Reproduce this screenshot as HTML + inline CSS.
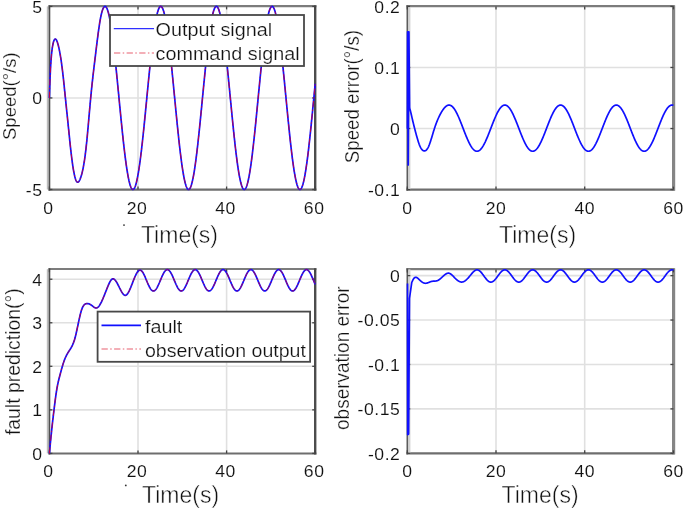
<!DOCTYPE html>
<html><head><meta charset="utf-8"><style>
html,body{margin:0;padding:0;background:#fff;}
svg{display:block;filter:blur(0.35px);}
text{font-family:"Liberation Sans",sans-serif;fill:#111;stroke:#fff;stroke-width:0.45px;}
.g{stroke:#e0e0e0;stroke-width:1.6;fill:none;}
.ax{stroke:#5e5e5e;stroke-width:2.1;fill:none;}
.tk{stroke:#444;stroke-width:1.3;}
.cb{stroke:#1010ff;stroke-width:1.7;fill:none;stroke-linejoin:round;}
.cr{stroke:#c8003c;stroke-width:1.0;fill:none;stroke-dasharray:6.3 2.4 1.5 2.4;}
.lg{fill:#fff;stroke:#484848;stroke-width:1.8;}
.lb{stroke:#3030ff;stroke-width:1.2;}
.lb2{stroke:#1010ff;stroke-width:1.7;}
.lr{stroke:#e86070;stroke-width:1.1;stroke-dasharray:6.3 2.4 1.5 2.4;}
.tl{font-size:16px;letter-spacing:0.5px;stroke-width:0.1px;}
.xl{font-size:23px;}
.yl{font-size:18px;stroke-width:0.25px;}
.lt{font-size:18px;stroke-width:0.2px;}
</style></head><body>
<svg width="685" height="509" viewBox="0 0 685 509">
<rect width="685" height="509" fill="#fff"/>
<line x1="138" y1="6.4" x2="138" y2="189.5" class="g"/>
<line x1="226.6" y1="6.4" x2="226.6" y2="189.5" class="g"/>
<line x1="49.4" y1="97.95" x2="315.2" y2="97.95" class="g"/>
<line x1="496" y1="6.4" x2="496" y2="189.6" class="g"/>
<line x1="584.7" y1="6.4" x2="584.7" y2="189.6" class="g"/>
<line x1="407.3" y1="128.53" x2="673.4" y2="128.53" class="g"/>
<line x1="407.3" y1="67.47" x2="673.4" y2="67.47" class="g"/>
<line x1="138" y1="269.2" x2="138" y2="453.4" class="g"/>
<line x1="226.6" y1="269.2" x2="226.6" y2="453.4" class="g"/>
<line x1="49.4" y1="409.85" x2="315.2" y2="409.85" class="g"/>
<line x1="49.4" y1="366.31" x2="315.2" y2="366.31" class="g"/>
<line x1="49.4" y1="322.76" x2="315.2" y2="322.76" class="g"/>
<line x1="49.4" y1="279.22" x2="315.2" y2="279.22" class="g"/>
<line x1="496" y1="269.4" x2="496" y2="453.3" class="g"/>
<line x1="584.7" y1="269.4" x2="584.7" y2="453.3" class="g"/>
<line x1="407.3" y1="408.88" x2="673.4" y2="408.88" class="g"/>
<line x1="407.3" y1="364.46" x2="673.4" y2="364.46" class="g"/>
<line x1="407.3" y1="320.04" x2="673.4" y2="320.04" class="g"/>
<line x1="407.3" y1="275.62" x2="673.4" y2="275.62" class="g"/>
<line x1="48.4" y1="6.2" x2="316.4" y2="6.2" stroke="#7c7c7c" stroke-width="2.2"/>
<line x1="48.4" y1="189.6" x2="316.4" y2="189.6" stroke="#6e6e6e" stroke-width="2.2"/>
<line x1="47.8" y1="6.4" x2="47.8" y2="189.5" stroke="#bdbdbd" stroke-width="2"/>
<line x1="49.5" y1="5.4" x2="49.5" y2="190.6" stroke="#505050" stroke-width="1.6"/>
<line x1="315.2" y1="5.4" x2="315.2" y2="190.6" stroke="#4c4c4c" stroke-width="2.4"/>
<line x1="49.4" y1="189.5" x2="49.4" y2="186.5" class="tk"/>
<line x1="49.4" y1="6.4" x2="49.4" y2="9.4" class="tk"/>
<line x1="138" y1="189.5" x2="138" y2="186.5" class="tk"/>
<line x1="138" y1="6.4" x2="138" y2="9.4" class="tk"/>
<line x1="226.6" y1="189.5" x2="226.6" y2="186.5" class="tk"/>
<line x1="226.6" y1="6.4" x2="226.6" y2="9.4" class="tk"/>
<line x1="315.2" y1="189.5" x2="315.2" y2="186.5" class="tk"/>
<line x1="315.2" y1="6.4" x2="315.2" y2="9.4" class="tk"/>
<line x1="49.4" y1="189.5" x2="52.4" y2="189.5" class="tk"/>
<line x1="315.2" y1="189.5" x2="312.2" y2="189.5" class="tk"/>
<line x1="49.4" y1="97.95" x2="52.4" y2="97.95" class="tk"/>
<line x1="315.2" y1="97.95" x2="312.2" y2="97.95" class="tk"/>
<line x1="49.4" y1="6.4" x2="52.4" y2="6.4" class="tk"/>
<line x1="315.2" y1="6.4" x2="312.2" y2="6.4" class="tk"/>
<line x1="406.3" y1="6.2" x2="674.6" y2="6.2" stroke="#7c7c7c" stroke-width="2.2"/>
<line x1="406.3" y1="189.7" x2="674.6" y2="189.7" stroke="#6e6e6e" stroke-width="2.2"/>
<line x1="409.3" y1="6.4" x2="409.3" y2="189.6" stroke="#d2d2d2" stroke-width="2.2"/>
<line x1="407.3" y1="5.4" x2="407.3" y2="190.7" stroke="#5c5c5c" stroke-width="1.6"/>
<line x1="673.6" y1="5.4" x2="673.6" y2="190.7" stroke="#858585" stroke-width="3.2"/>
<line x1="407.3" y1="189.6" x2="407.3" y2="186.6" class="tk"/>
<line x1="407.3" y1="6.4" x2="407.3" y2="9.4" class="tk"/>
<line x1="496" y1="189.6" x2="496" y2="186.6" class="tk"/>
<line x1="496" y1="6.4" x2="496" y2="9.4" class="tk"/>
<line x1="584.7" y1="189.6" x2="584.7" y2="186.6" class="tk"/>
<line x1="584.7" y1="6.4" x2="584.7" y2="9.4" class="tk"/>
<line x1="673.4" y1="189.6" x2="673.4" y2="186.6" class="tk"/>
<line x1="673.4" y1="6.4" x2="673.4" y2="9.4" class="tk"/>
<line x1="407.3" y1="189.6" x2="410.3" y2="189.6" class="tk"/>
<line x1="673.4" y1="189.6" x2="670.4" y2="189.6" class="tk"/>
<line x1="407.3" y1="128.53" x2="410.3" y2="128.53" class="tk"/>
<line x1="673.4" y1="128.53" x2="670.4" y2="128.53" class="tk"/>
<line x1="407.3" y1="67.47" x2="410.3" y2="67.47" class="tk"/>
<line x1="673.4" y1="67.47" x2="670.4" y2="67.47" class="tk"/>
<line x1="407.3" y1="6.4" x2="410.3" y2="6.4" class="tk"/>
<line x1="673.4" y1="6.4" x2="670.4" y2="6.4" class="tk"/>
<line x1="48.4" y1="269" x2="316.4" y2="269" stroke="#7c7c7c" stroke-width="2.2"/>
<line x1="48.4" y1="453.5" x2="316.4" y2="453.5" stroke="#6e6e6e" stroke-width="2.2"/>
<line x1="47.8" y1="269.2" x2="47.8" y2="453.4" stroke="#bdbdbd" stroke-width="2"/>
<line x1="49.5" y1="268.2" x2="49.5" y2="454.5" stroke="#505050" stroke-width="1.6"/>
<line x1="315.2" y1="268.2" x2="315.2" y2="454.5" stroke="#4c4c4c" stroke-width="2.4"/>
<line x1="49.4" y1="453.4" x2="49.4" y2="450.4" class="tk"/>
<line x1="49.4" y1="269.2" x2="49.4" y2="272.2" class="tk"/>
<line x1="138" y1="453.4" x2="138" y2="450.4" class="tk"/>
<line x1="138" y1="269.2" x2="138" y2="272.2" class="tk"/>
<line x1="226.6" y1="453.4" x2="226.6" y2="450.4" class="tk"/>
<line x1="226.6" y1="269.2" x2="226.6" y2="272.2" class="tk"/>
<line x1="315.2" y1="453.4" x2="315.2" y2="450.4" class="tk"/>
<line x1="315.2" y1="269.2" x2="315.2" y2="272.2" class="tk"/>
<line x1="49.4" y1="453.4" x2="52.4" y2="453.4" class="tk"/>
<line x1="315.2" y1="453.4" x2="312.2" y2="453.4" class="tk"/>
<line x1="49.4" y1="409.85" x2="52.4" y2="409.85" class="tk"/>
<line x1="315.2" y1="409.85" x2="312.2" y2="409.85" class="tk"/>
<line x1="49.4" y1="366.31" x2="52.4" y2="366.31" class="tk"/>
<line x1="315.2" y1="366.31" x2="312.2" y2="366.31" class="tk"/>
<line x1="49.4" y1="322.76" x2="52.4" y2="322.76" class="tk"/>
<line x1="315.2" y1="322.76" x2="312.2" y2="322.76" class="tk"/>
<line x1="49.4" y1="279.22" x2="52.4" y2="279.22" class="tk"/>
<line x1="315.2" y1="279.22" x2="312.2" y2="279.22" class="tk"/>
<line x1="406.3" y1="269.2" x2="674.6" y2="269.2" stroke="#7c7c7c" stroke-width="2.2"/>
<line x1="406.3" y1="453.4" x2="674.6" y2="453.4" stroke="#6e6e6e" stroke-width="2.2"/>
<line x1="409.3" y1="269.4" x2="409.3" y2="453.3" stroke="#d2d2d2" stroke-width="2.2"/>
<line x1="407.3" y1="268.4" x2="407.3" y2="454.4" stroke="#5c5c5c" stroke-width="1.6"/>
<line x1="673.6" y1="268.4" x2="673.6" y2="454.4" stroke="#858585" stroke-width="3.2"/>
<line x1="407.3" y1="453.3" x2="407.3" y2="450.3" class="tk"/>
<line x1="407.3" y1="269.4" x2="407.3" y2="272.4" class="tk"/>
<line x1="496" y1="453.3" x2="496" y2="450.3" class="tk"/>
<line x1="496" y1="269.4" x2="496" y2="272.4" class="tk"/>
<line x1="584.7" y1="453.3" x2="584.7" y2="450.3" class="tk"/>
<line x1="584.7" y1="269.4" x2="584.7" y2="272.4" class="tk"/>
<line x1="673.4" y1="453.3" x2="673.4" y2="450.3" class="tk"/>
<line x1="673.4" y1="269.4" x2="673.4" y2="272.4" class="tk"/>
<line x1="407.3" y1="453.3" x2="410.3" y2="453.3" class="tk"/>
<line x1="673.4" y1="453.3" x2="670.4" y2="453.3" class="tk"/>
<line x1="407.3" y1="408.88" x2="410.3" y2="408.88" class="tk"/>
<line x1="673.4" y1="408.88" x2="670.4" y2="408.88" class="tk"/>
<line x1="407.3" y1="364.46" x2="410.3" y2="364.46" class="tk"/>
<line x1="673.4" y1="364.46" x2="670.4" y2="364.46" class="tk"/>
<line x1="407.3" y1="320.04" x2="410.3" y2="320.04" class="tk"/>
<line x1="673.4" y1="320.04" x2="670.4" y2="320.04" class="tk"/>
<line x1="407.3" y1="275.62" x2="410.3" y2="275.62" class="tk"/>
<line x1="673.4" y1="275.62" x2="670.4" y2="275.62" class="tk"/>
<path d="M49.4 97.95 L49.62 90.28 L49.84 83.66 L50.07 77.94 L50.29 72.98 L50.51 68.64 L50.73 64.78 L50.95 61.36 L51.17 58.33 L51.4 55.67 L51.62 53.34 L51.84 51.3 L52.06 49.51 L52.28 47.94 L52.5 46.56 L52.73 45.33 L52.95 44.23 L53.17 43.24 L53.39 42.36 L53.61 41.6 L53.83 40.94 L54.06 40.38 L54.28 39.93 L54.5 39.57 L54.72 39.31 L54.94 39.14 L55.16 39.05 L55.39 39.05 L55.61 39.13 L55.83 39.28 L56.05 39.51 L56.27 39.81 L56.49 40.17 L56.72 40.6 L56.94 41.1 L57.16 41.66 L57.38 42.28 L57.6 42.96 L57.82 43.69 L58.05 44.48 L58.27 45.32 L58.49 46.22 L58.71 47.16 L58.93 48.14 L59.15 49.17 L59.38 50.25 L59.6 51.37 L59.82 52.54 L60.04 53.76 L60.26 55.02 L60.48 56.33 L60.71 57.7 L60.93 59.11 L61.15 60.58 L61.37 62.11 L61.59 63.69 L61.81 65.32 L62.04 67.01 L62.26 68.77 L62.48 70.58 L62.7 72.44 L62.92 74.37 L63.14 76.34 L63.37 78.36 L63.59 80.42 L63.81 82.5 L64.03 84.62 L64.25 86.76 L64.47 88.92 L64.7 91.08 L64.92 93.26 L65.14 95.43 L65.36 97.6 L65.58 99.76 L65.8 101.91 L66.03 104.06 L66.25 106.2 L66.47 108.34 L66.69 110.49 L66.91 112.63 L67.13 114.77 L67.36 116.92 L67.58 119.07 L67.8 121.23 L68.02 123.39 L68.24 125.57 L68.46 127.76 L68.69 129.95 L68.91 132.14 L69.13 134.33 L69.35 136.51 L69.57 138.67 L69.79 140.82 L70.02 142.95 L70.24 145.04 L70.46 147.1 L70.68 149.12 L70.9 151.1 L71.13 153.04 L71.35 154.91 L71.57 156.74 L71.79 158.51 L72.01 160.22 L72.23 161.88 L72.46 163.48 L72.68 165.02 L72.9 166.5 L73.12 167.91 L73.34 169.27 L73.56 170.56 L73.79 171.78 L74.01 172.94 L74.23 174.04 L74.45 175.06 L74.67 176.02 L74.89 176.91 L75.12 177.73 L75.34 178.48 L75.56 179.16 L75.78 179.78 L76 180.33 L76.22 180.81 L76.45 181.22 L76.67 181.56 L76.89 181.84 L77.11 182.05 L77.33 182.19 L77.55 182.26 L77.78 182.27 L78 182.21 L78.22 182.09 L78.44 181.92 L78.66 181.69 L78.88 181.42 L79.11 181.09 L79.33 180.72 L79.55 180.3 L79.77 179.84 L79.99 179.35 L80.21 178.82 L80.44 178.25 L80.66 177.66 L80.88 177.02 L81.1 176.35 L81.32 175.64 L81.54 174.88 L81.77 174.08 L81.99 173.24 L82.21 172.35 L82.43 171.42 L82.65 170.43 L82.87 169.39 L83.1 168.3 L83.32 167.16 L83.54 165.95 L83.76 164.69 L83.98 163.37 L84.2 162 L84.43 160.56 L84.65 159.05 L84.87 157.49 L85.09 155.85 L85.31 154.16 L85.53 152.39 L85.76 150.56 L85.98 148.65 L86.2 146.68 L86.42 144.63 L86.64 142.51 L86.86 140.31 L87.09 138.05 L87.31 135.73 L87.53 133.35 L87.75 130.93 L87.97 128.48 L88.19 125.98 L88.42 123.47 L88.64 120.94 L88.86 118.39 L89.08 115.84 L89.3 113.3 L89.52 110.77 L89.75 108.25 L89.97 105.76 L90.19 103.3 L90.41 100.88 L90.63 98.5 L90.86 96.17 L91.08 93.9 L91.3 91.67 L91.52 89.48 L91.74 87.33 L91.96 85.23 L92.19 83.16 L92.41 81.12 L92.63 79.11 L92.85 77.14 L93.07 75.18 L93.29 73.26 L93.52 71.35 L93.74 69.46 L93.96 67.59 L94.18 65.73 L94.4 63.89 L94.62 62.05 L94.85 60.22 L95.07 58.39 L95.29 56.57 L95.51 54.74 L95.73 52.91 L95.95 51.08 L96.18 49.26 L96.4 47.43 L96.62 45.62 L96.84 43.82 L97.06 42.04 L97.28 40.27 L97.51 38.52 L97.73 36.79 L97.95 35.09 L98.17 33.42 L98.39 31.78 L98.61 30.17 L98.84 28.6 L99.06 27.07 L99.28 25.58 L99.5 24.14 L99.72 22.74 L99.94 21.4 L100.17 20.11 L100.39 18.88 L100.61 17.7 L100.83 16.59 L101.05 15.53 L101.27 14.53 L101.5 13.59 L101.72 12.71 L101.94 11.89 L102.16 11.13 L102.38 10.42 L102.6 9.77 L102.83 9.18 L103.05 8.64 L103.27 8.17 L103.49 7.75 L103.71 7.39 L103.93 7.08 L104.16 6.83 L104.38 6.64 L104.6 6.5 L104.82 6.42 L105.04 6.4 L105.26 6.43 L105.49 6.52 L105.71 6.66 L105.93 6.86 L106.15 7.12 L106.37 7.43 L106.59 7.79 L106.82 8.21 L107.04 8.69 L107.26 9.22 L107.48 9.8 L107.7 10.44 L107.92 11.14 L108.15 11.88 L108.37 12.69 L108.59 13.54 L108.81 14.45 L109.03 15.41 L109.25 16.43 L109.48 17.5 L109.7 18.61 L109.92 19.78 L110.14 21 L110.36 22.26 L110.58 23.58 L110.81 24.94 L111.03 26.34 L111.25 27.79 L111.47 29.28 L111.69 30.82 L111.92 32.4 L112.14 34.02 L112.36 35.68 L112.58 37.37 L112.8 39.11 L113.02 40.88 L113.25 42.69 L113.47 44.54 L113.69 46.41 L113.91 48.32 L114.13 50.26 L114.35 52.23 L114.58 54.23 L114.8 56.26 L115.02 58.31 L115.24 60.39 L115.46 62.49 L115.68 64.61 L115.91 66.75 L116.13 68.92 L116.35 71.1 L116.57 73.3 L116.79 75.51 L117.01 77.74 L117.24 79.98 L117.46 82.23 L117.68 84.49 L117.9 86.76 L118.12 89.04 L118.34 91.32 L118.57 93.61 L118.79 95.89 L119.01 98.18 L119.23 100.48 L119.45 102.76 L119.67 105.05 L119.9 107.33 L120.12 109.61 L120.34 111.87 L120.56 114.13 L120.78 116.38 L121 118.62 L121.23 120.85 L121.45 123.06 L121.67 125.25 L121.89 127.43 L122.11 129.59 L122.33 131.73 L122.56 133.85 L122.78 135.94 L123 138.01 L123.22 140.06 L123.44 142.08 L123.66 144.07 L123.89 146.04 L124.11 147.97 L124.33 149.87 L124.55 151.74 L124.77 153.58 L124.99 155.38 L125.22 157.15 L125.44 158.88 L125.66 160.57 L125.88 162.22 L126.1 163.83 L126.32 165.4 L126.55 166.93 L126.77 168.41 L126.99 169.85 L127.21 171.25 L127.43 172.6 L127.65 173.9 L127.88 175.15 L128.1 176.36 L128.32 177.52 L128.54 178.63 L128.76 179.68 L128.98 180.69 L129.21 181.64 L129.43 182.55 L129.65 183.4 L129.87 184.19 L130.09 184.93 L130.31 185.62 L130.54 186.25 L130.76 186.83 L130.98 187.35 L131.2 187.82 L131.42 188.23 L131.65 188.58 L131.87 188.87 L132.09 189.11 L132.31 189.29 L132.53 189.42 L132.75 189.49 L132.98 189.5 L133.2 189.45 L133.42 189.35 L133.64 189.18 L133.86 188.96 L134.08 188.69 L134.31 188.36 L134.53 187.97 L134.75 187.52 L134.97 187.02 L135.19 186.46 L135.41 185.85 L135.64 185.18 L135.86 184.46 L136.08 183.68 L136.3 182.85 L136.52 181.97 L136.74 181.03 L136.97 180.05 L137.19 179.01 L137.41 177.92 L137.63 176.78 L137.85 175.59 L138.07 174.35 L138.3 173.06 L138.52 171.73 L138.74 170.35 L138.96 168.93 L139.18 167.46 L139.4 165.95 L139.63 164.39 L139.85 162.79 L140.07 161.16 L140.29 159.48 L140.51 157.76 L140.73 156.01 L140.96 154.22 L141.18 152.4 L141.4 150.54 L141.62 148.65 L141.84 146.73 L142.06 144.77 L142.29 142.79 L142.51 140.78 L142.73 138.74 L142.95 136.68 L143.17 134.59 L143.39 132.48 L143.62 130.35 L143.84 128.2 L144.06 126.02 L144.28 123.83 L144.5 121.63 L144.72 119.41 L144.95 117.18 L145.17 114.93 L145.39 112.68 L145.61 110.41 L145.83 108.14 L146.05 105.86 L146.28 103.57 L146.5 101.29 L146.72 99 L146.94 96.7 L147.16 94.42 L147.38 92.13 L147.61 89.84 L147.83 87.56 L148.05 85.29 L148.27 83.03 L148.49 80.77 L148.71 78.53 L148.94 76.3 L149.16 74.08 L149.38 71.87 L149.6 69.69 L149.82 67.52 L150.04 65.37 L150.27 63.24 L150.49 61.13 L150.71 59.04 L150.93 56.98 L151.15 54.95 L151.37 52.94 L151.6 50.96 L151.82 49.01 L152.04 47.09 L152.26 45.2 L152.48 43.34 L152.71 41.52 L152.93 39.73 L153.15 37.98 L153.37 36.27 L153.59 34.6 L153.81 32.97 L154.04 31.37 L154.26 29.82 L154.48 28.31 L154.7 26.85 L154.92 25.43 L155.14 24.05 L155.37 22.72 L155.59 21.44 L155.81 20.21 L156.03 19.02 L156.25 17.89 L156.47 16.8 L156.7 15.77 L156.92 14.78 L157.14 13.85 L157.36 12.97 L157.58 12.15 L157.8 11.37 L158.03 10.66 L158.25 9.99 L158.47 9.39 L158.69 8.83 L158.91 8.34 L159.13 7.9 L159.36 7.51 L159.58 7.18 L159.8 6.91 L160.02 6.7 L160.24 6.54 L160.46 6.44 L160.69 6.4 L160.91 6.42 L161.13 6.49 L161.35 6.62 L161.57 6.81 L161.79 7.05 L162.02 7.35 L162.24 7.71 L162.46 8.12 L162.68 8.59 L162.9 9.12 L163.12 9.7 L163.35 10.34 L163.57 11.03 L163.79 11.78 L164.01 12.58 L164.23 13.43 L164.45 14.34 L164.68 15.3 L164.9 16.31 L165.12 17.37 L165.34 18.48 L165.56 19.64 L165.78 20.85 L166.01 22.11 L166.23 23.42 L166.45 24.77 L166.67 26.17 L166.89 27.62 L167.11 29.1 L167.34 30.64 L167.56 32.21 L167.78 33.82 L168 35.48 L168.22 37.17 L168.44 38.9 L168.67 40.67 L168.89 42.48 L169.11 44.32 L169.33 46.19 L169.55 48.1 L169.77 50.03 L170 52 L170.22 53.99 L170.44 56.02 L170.66 58.07 L170.88 60.14 L171.1 62.24 L171.33 64.36 L171.55 66.5 L171.77 68.66 L171.99 70.84 L172.21 73.04 L172.44 75.25 L172.66 77.47 L172.88 79.71 L173.1 81.96 L173.32 84.22 L173.54 86.49 L173.77 88.77 L173.99 91.05 L174.21 93.34 L174.43 95.62 L174.65 97.91 L174.87 100.21 L175.1 102.49 L175.32 104.78 L175.54 107.06 L175.76 109.34 L175.98 111.61 L176.2 113.87 L176.43 116.12 L176.65 118.36 L176.87 120.58 L177.09 122.8 L177.31 124.99 L177.53 127.17 L177.76 129.33 L177.98 131.48 L178.2 133.6 L178.42 135.7 L178.64 137.77 L178.86 139.82 L179.09 141.84 L179.31 143.84 L179.53 145.81 L179.75 147.75 L179.97 149.65 L180.19 151.53 L180.42 153.37 L180.64 155.17 L180.86 156.94 L181.08 158.68 L181.3 160.37 L181.52 162.03 L181.75 163.64 L181.97 165.22 L182.19 166.75 L182.41 168.24 L182.63 169.68 L182.85 171.08 L183.08 172.44 L183.3 173.75 L183.52 175.01 L183.74 176.22 L183.96 177.38 L184.18 178.5 L184.41 179.56 L184.63 180.57 L184.85 181.53 L185.07 182.44 L185.29 183.3 L185.51 184.1 L185.74 184.85 L185.96 185.54 L186.18 186.18 L186.4 186.76 L186.62 187.29 L186.84 187.76 L187.07 188.18 L187.29 188.54 L187.51 188.84 L187.73 189.09 L187.95 189.28 L188.17 189.41 L188.4 189.48 L188.62 189.5 L188.84 189.46 L189.06 189.36 L189.28 189.21 L189.5 188.99 L189.73 188.72 L189.95 188.4 L190.17 188.02 L190.39 187.58 L190.61 187.08 L190.83 186.53 L191.06 185.93 L191.28 185.26 L191.5 184.55 L191.72 183.78 L191.94 182.95 L192.16 182.08 L192.39 181.15 L192.61 180.17 L192.83 179.13 L193.05 178.05 L193.27 176.91 L193.5 175.73 L193.72 174.5 L193.94 173.22 L194.16 171.89 L194.38 170.52 L194.6 169.1 L194.83 167.63 L195.05 166.13 L195.27 164.58 L195.49 162.98 L195.71 161.35 L195.93 159.68 L196.16 157.97 L196.38 156.22 L196.6 154.44 L196.82 152.62 L197.04 150.76 L197.26 148.87 L197.49 146.95 L197.71 145 L197.93 143.02 L198.15 141.02 L198.37 138.98 L198.59 136.92 L198.82 134.84 L199.04 132.73 L199.26 130.6 L199.48 128.45 L199.7 126.28 L199.92 124.09 L200.15 121.89 L200.37 119.67 L200.59 117.44 L200.81 115.2 L201.03 112.94 L201.25 110.68 L201.48 108.41 L201.7 106.13 L201.92 103.84 L202.14 101.56 L202.36 99.27 L202.58 96.98 L202.81 94.69 L203.03 92.4 L203.25 90.11 L203.47 87.83 L203.69 85.56 L203.91 83.29 L204.14 81.04 L204.36 78.79 L204.58 76.56 L204.8 74.34 L205.02 72.13 L205.24 69.94 L205.47 67.77 L205.69 65.62 L205.91 63.49 L206.13 61.37 L206.35 59.29 L206.57 57.22 L206.8 55.18 L207.02 53.17 L207.24 51.19 L207.46 49.23 L207.68 47.31 L207.9 45.42 L208.13 43.56 L208.35 41.73 L208.57 39.94 L208.79 38.19 L209.01 36.47 L209.23 34.79 L209.46 33.16 L209.68 31.56 L209.9 30 L210.12 28.49 L210.34 27.02 L210.56 25.59 L210.79 24.21 L211.01 22.88 L211.23 21.59 L211.45 20.35 L211.67 19.16 L211.89 18.02 L212.12 16.93 L212.34 15.89 L212.56 14.9 L212.78 13.96 L213 13.07 L213.23 12.24 L213.45 11.46 L213.67 10.74 L213.89 10.07 L214.11 9.46 L214.33 8.9 L214.56 8.39 L214.78 7.95 L215 7.55 L215.22 7.22 L215.44 6.94 L215.66 6.72 L215.89 6.56 L216.11 6.45 L216.33 6.4 L216.55 6.41 L216.77 6.48 L216.99 6.6 L217.22 6.78 L217.44 7.02 L217.66 7.31 L217.88 7.66 L218.1 8.07 L218.32 8.53 L218.55 9.05 L218.77 9.63 L218.99 10.26 L219.21 10.94 L219.43 11.68 L219.65 12.48 L219.88 13.33 L220.1 14.23 L220.32 15.18 L220.54 16.18 L220.76 17.24 L220.98 18.35 L221.21 19.5 L221.43 20.71 L221.65 21.96 L221.87 23.26 L222.09 24.61 L222.31 26 L222.54 27.44 L222.76 28.93 L222.98 30.45 L223.2 32.02 L223.42 33.63 L223.64 35.28 L223.87 36.97 L224.09 38.7 L224.31 40.46 L224.53 42.26 L224.75 44.1 L224.97 45.97 L225.2 47.87 L225.42 49.8 L225.64 51.77 L225.86 53.76 L226.08 55.78 L226.3 57.82 L226.53 59.89 L226.75 61.99 L226.97 64.11 L227.19 66.25 L227.41 68.4 L227.63 70.58 L227.86 72.78 L228.08 74.99 L228.3 77.21 L228.52 79.45 L228.74 81.7 L228.96 83.96 L229.19 86.22 L229.41 88.5 L229.63 90.78 L229.85 93.07 L230.07 95.35 L230.29 97.64 L230.52 99.93 L230.74 102.22 L230.96 104.51 L231.18 106.79 L231.4 109.07 L231.62 111.34 L231.85 113.6 L232.07 115.85 L232.29 118.09 L232.51 120.32 L232.73 122.54 L232.95 124.73 L233.18 126.92 L233.4 129.08 L233.62 131.22 L233.84 133.35 L234.06 135.45 L234.29 137.53 L234.51 139.58 L234.73 141.61 L234.95 143.61 L235.17 145.58 L235.39 147.52 L235.62 149.43 L235.84 151.31 L236.06 153.15 L236.28 154.96 L236.5 156.74 L236.72 158.47 L236.95 160.17 L237.17 161.83 L237.39 163.45 L237.61 165.03 L237.83 166.57 L238.05 168.07 L238.28 169.52 L238.5 170.92 L238.72 172.28 L238.94 173.6 L239.16 174.86 L239.38 176.08 L239.61 177.25 L239.83 178.37 L240.05 179.44 L240.27 180.46 L240.49 181.42 L240.71 182.34 L240.94 183.2 L241.16 184.01 L241.38 184.76 L241.6 185.46 L241.82 186.11 L242.04 186.7 L242.27 187.23 L242.49 187.71 L242.71 188.13 L242.93 188.5 L243.15 188.81 L243.37 189.06 L243.6 189.26 L243.82 189.4 L244.04 189.48 L244.26 189.5 L244.48 189.47 L244.7 189.38 L244.93 189.23 L245.15 189.02 L245.37 188.76 L245.59 188.44 L245.81 188.06 L246.03 187.63 L246.26 187.14 L246.48 186.6 L246.7 186 L246.92 185.35 L247.14 184.64 L247.36 183.87 L247.59 183.05 L247.81 182.18 L248.03 181.26 L248.25 180.28 L248.47 179.26 L248.69 178.18 L248.92 177.05 L249.14 175.87 L249.36 174.65 L249.58 173.37 L249.8 172.05 L250.02 170.68 L250.25 169.27 L250.47 167.81 L250.69 166.31 L250.91 164.76 L251.13 163.17 L251.35 161.55 L251.58 159.88 L251.8 158.17 L252.02 156.43 L252.24 154.65 L252.46 152.83 L252.68 150.98 L252.91 149.1 L253.13 147.18 L253.35 145.24 L253.57 143.26 L253.79 141.26 L254.02 139.22 L254.24 137.17 L254.46 135.08 L254.68 132.98 L254.9 130.85 L255.12 128.7 L255.35 126.54 L255.57 124.35 L255.79 122.15 L256.01 119.93 L256.23 117.7 L256.45 115.46 L256.68 113.21 L256.9 110.95 L257.12 108.67 L257.34 106.4 L257.56 104.11 L257.78 101.83 L258.01 99.54 L258.23 97.25 L258.45 94.96 L258.67 92.67 L258.89 90.38 L259.11 88.1 L259.34 85.83 L259.56 83.56 L259.78 81.3 L260 79.06 L260.22 76.82 L260.44 74.6 L260.67 72.39 L260.89 70.2 L261.11 68.03 L261.33 65.87 L261.55 63.74 L261.77 61.62 L262 59.53 L262.22 57.46 L262.44 55.42 L262.66 53.41 L262.88 51.42 L263.1 49.46 L263.33 47.54 L263.55 45.64 L263.77 43.78 L263.99 41.95 L264.21 40.15 L264.43 38.39 L264.66 36.67 L264.88 34.99 L265.1 33.35 L265.32 31.74 L265.54 30.18 L265.76 28.66 L265.99 27.19 L266.21 25.76 L266.43 24.37 L266.65 23.03 L266.87 21.74 L267.09 20.49 L267.32 19.3 L267.54 18.15 L267.76 17.05 L267.98 16.01 L268.2 15.01 L268.42 14.07 L268.65 13.17 L268.87 12.34 L269.09 11.55 L269.31 10.82 L269.53 10.15 L269.75 9.52 L269.98 8.96 L270.2 8.45 L270.42 8 L270.64 7.6 L270.86 7.26 L271.08 6.97 L271.31 6.75 L271.53 6.58 L271.75 6.46 L271.97 6.41 L272.19 6.41 L272.41 6.47 L272.64 6.58 L272.86 6.76 L273.08 6.99 L273.3 7.27 L273.52 7.62 L273.74 8.02 L273.97 8.48 L274.19 8.99 L274.41 9.56 L274.63 10.18 L274.85 10.86 L275.08 11.59 L275.3 12.38 L275.52 13.22 L275.74 14.12 L275.96 15.06 L276.18 16.06 L276.41 17.11 L276.63 18.21 L276.85 19.36 L277.07 20.56 L277.29 21.81 L277.51 23.11 L277.74 24.45 L277.96 25.84 L278.18 27.27 L278.4 28.75 L278.62 30.27 L278.84 31.83 L279.07 33.44 L279.29 35.08 L279.51 36.77 L279.73 38.49 L279.95 40.25 L280.17 42.05 L280.4 43.88 L280.62 45.75 L280.84 47.64 L281.06 49.57 L281.28 51.53 L281.5 53.52 L281.73 55.54 L281.95 57.58 L282.17 59.65 L282.39 61.74 L282.61 63.86 L282.83 65.99 L283.06 68.15 L283.28 70.32 L283.5 72.52 L283.72 74.72 L283.94 76.95 L284.16 79.18 L284.39 81.43 L284.61 83.69 L284.83 85.96 L285.05 88.23 L285.27 90.51 L285.49 92.8 L285.72 95.08 L285.94 97.37 L286.16 99.66 L286.38 101.95 L286.6 104.24 L286.82 106.52 L287.05 108.8 L287.27 111.07 L287.49 113.34 L287.71 115.59 L287.93 117.83 L288.15 120.06 L288.38 122.28 L288.6 124.48 L288.82 126.66 L289.04 128.83 L289.26 130.97 L289.48 133.1 L289.71 135.2 L289.93 137.28 L290.15 139.34 L290.37 141.37 L290.59 143.37 L290.81 145.35 L291.04 147.29 L291.26 149.2 L291.48 151.09 L291.7 152.93 L291.92 154.75 L292.14 156.53 L292.37 158.27 L292.59 159.97 L292.81 161.64 L293.03 163.26 L293.25 164.85 L293.47 166.39 L293.7 167.89 L293.92 169.35 L294.14 170.76 L294.36 172.12 L294.58 173.44 L294.81 174.72 L295.03 175.94 L295.25 177.11 L295.47 178.24 L295.69 179.32 L295.91 180.34 L296.14 181.31 L296.36 182.23 L296.58 183.1 L296.8 183.92 L297.02 184.68 L297.24 185.38 L297.47 186.04 L297.69 186.63 L297.91 187.17 L298.13 187.66 L298.35 188.09 L298.57 188.46 L298.8 188.78 L299.02 189.03 L299.24 189.24 L299.46 189.38 L299.68 189.47 L299.9 189.5 L300.13 189.47 L300.35 189.39 L300.57 189.25 L300.79 189.05 L301.01 188.79 L301.23 188.48 L301.46 188.11 L301.68 187.69 L301.9 187.2 L302.12 186.67 L302.34 186.07 L302.56 185.43 L302.79 184.72 L303.01 183.96 L303.23 183.15 L303.45 182.29 L303.67 181.37 L303.89 180.4 L304.12 179.38 L304.34 178.31 L304.56 177.19 L304.78 176.01 L305 174.79 L305.22 173.52 L305.45 172.21 L305.67 170.84 L305.89 169.44 L306.11 167.98 L306.33 166.49 L306.55 164.95 L306.78 163.36 L307 161.74 L307.22 160.08 L307.44 158.38 L307.66 156.64 L307.88 154.86 L308.11 153.05 L308.33 151.2 L308.55 149.32 L308.77 147.41 L308.99 145.47 L309.21 143.49 L309.44 141.49 L309.66 139.46 L309.88 137.41 L310.1 135.33 L310.32 133.23 L310.54 131.1 L310.77 128.96 L310.99 126.79 L311.21 124.61 L311.43 122.41 L311.65 120.2 L311.87 117.97 L312.1 115.73 L312.32 113.47 L312.54 111.21 L312.76 108.94 L312.98 106.67 L313.2 104.38 L313.43 102.1 L313.65 99.81 L313.87 97.52 L314.09 95.23 L314.31 92.94 L314.53 90.65 L314.76 88.37 L314.98 86.1 L315.2 83.83" class="cb"/><path d="M49.4 97.95 L49.62 90.28 L49.84 83.66 L50.07 77.94 L50.29 72.98 L50.51 68.64 L50.73 64.78 L50.95 61.36 L51.17 58.33 L51.4 55.67 L51.62 53.34 L51.84 51.3 L52.06 49.51 L52.28 47.94 L52.5 46.56 L52.73 45.33 L52.95 44.23 L53.17 43.24 L53.39 42.36 L53.61 41.6 L53.83 40.94 L54.06 40.38 L54.28 39.93 L54.5 39.57 L54.72 39.31 L54.94 39.14 L55.16 39.05 L55.39 39.05 L55.61 39.13 L55.83 39.28 L56.05 39.51 L56.27 39.81 L56.49 40.17 L56.72 40.6 L56.94 41.1 L57.16 41.66 L57.38 42.28 L57.6 42.96 L57.82 43.69 L58.05 44.48 L58.27 45.32 L58.49 46.22 L58.71 47.16 L58.93 48.14 L59.15 49.17 L59.38 50.25 L59.6 51.37 L59.82 52.54 L60.04 53.76 L60.26 55.02 L60.48 56.33 L60.71 57.7 L60.93 59.11 L61.15 60.58 L61.37 62.11 L61.59 63.69 L61.81 65.32 L62.04 67.01 L62.26 68.77 L62.48 70.58 L62.7 72.44 L62.92 74.37 L63.14 76.34 L63.37 78.36 L63.59 80.42 L63.81 82.5 L64.03 84.62 L64.25 86.76 L64.47 88.92 L64.7 91.08 L64.92 93.26 L65.14 95.43 L65.36 97.6 L65.58 99.76 L65.8 101.91 L66.03 104.06 L66.25 106.2 L66.47 108.34 L66.69 110.49 L66.91 112.63 L67.13 114.77 L67.36 116.92 L67.58 119.07 L67.8 121.23 L68.02 123.39 L68.24 125.57 L68.46 127.76 L68.69 129.95 L68.91 132.14 L69.13 134.33 L69.35 136.51 L69.57 138.67 L69.79 140.82 L70.02 142.95 L70.24 145.04 L70.46 147.1 L70.68 149.12 L70.9 151.1 L71.13 153.04 L71.35 154.91 L71.57 156.74 L71.79 158.51 L72.01 160.22 L72.23 161.88 L72.46 163.48 L72.68 165.02 L72.9 166.5 L73.12 167.91 L73.34 169.27 L73.56 170.56 L73.79 171.78 L74.01 172.94 L74.23 174.04 L74.45 175.06 L74.67 176.02 L74.89 176.91 L75.12 177.73 L75.34 178.48 L75.56 179.16 L75.78 179.78 L76 180.33 L76.22 180.81 L76.45 181.22 L76.67 181.56 L76.89 181.84 L77.11 182.05 L77.33 182.19 L77.55 182.26 L77.78 182.27 L78 182.21 L78.22 182.09 L78.44 181.92 L78.66 181.69 L78.88 181.42 L79.11 181.09 L79.33 180.72 L79.55 180.3 L79.77 179.84 L79.99 179.35 L80.21 178.82 L80.44 178.25 L80.66 177.66 L80.88 177.02 L81.1 176.35 L81.32 175.64 L81.54 174.88 L81.77 174.08 L81.99 173.24 L82.21 172.35 L82.43 171.42 L82.65 170.43 L82.87 169.39 L83.1 168.3 L83.32 167.16 L83.54 165.95 L83.76 164.69 L83.98 163.37 L84.2 162 L84.43 160.56 L84.65 159.05 L84.87 157.49 L85.09 155.85 L85.31 154.16 L85.53 152.39 L85.76 150.56 L85.98 148.65 L86.2 146.68 L86.42 144.63 L86.64 142.51 L86.86 140.31 L87.09 138.05 L87.31 135.73 L87.53 133.35 L87.75 130.93 L87.97 128.48 L88.19 125.98 L88.42 123.47 L88.64 120.94 L88.86 118.39 L89.08 115.84 L89.3 113.3 L89.52 110.77 L89.75 108.25 L89.97 105.76 L90.19 103.3 L90.41 100.88 L90.63 98.5 L90.86 96.17 L91.08 93.9 L91.3 91.67 L91.52 89.48 L91.74 87.33 L91.96 85.23 L92.19 83.16 L92.41 81.12 L92.63 79.11 L92.85 77.14 L93.07 75.18 L93.29 73.26 L93.52 71.35 L93.74 69.46 L93.96 67.59 L94.18 65.73 L94.4 63.89 L94.62 62.05 L94.85 60.22 L95.07 58.39 L95.29 56.57 L95.51 54.74 L95.73 52.91 L95.95 51.08 L96.18 49.26 L96.4 47.43 L96.62 45.62 L96.84 43.82 L97.06 42.04 L97.28 40.27 L97.51 38.52 L97.73 36.79 L97.95 35.09 L98.17 33.42 L98.39 31.78 L98.61 30.17 L98.84 28.6 L99.06 27.07 L99.28 25.58 L99.5 24.14 L99.72 22.74 L99.94 21.4 L100.17 20.11 L100.39 18.88 L100.61 17.7 L100.83 16.59 L101.05 15.53 L101.27 14.53 L101.5 13.59 L101.72 12.71 L101.94 11.89 L102.16 11.13 L102.38 10.42 L102.6 9.77 L102.83 9.18 L103.05 8.64 L103.27 8.17 L103.49 7.75 L103.71 7.39 L103.93 7.08 L104.16 6.83 L104.38 6.64 L104.6 6.5 L104.82 6.42 L105.04 6.4 L105.26 6.43 L105.49 6.52 L105.71 6.66 L105.93 6.86 L106.15 7.12 L106.37 7.43 L106.59 7.79 L106.82 8.21 L107.04 8.69 L107.26 9.22 L107.48 9.8 L107.7 10.44 L107.92 11.14 L108.15 11.88 L108.37 12.69 L108.59 13.54 L108.81 14.45 L109.03 15.41 L109.25 16.43 L109.48 17.5 L109.7 18.61 L109.92 19.78 L110.14 21 L110.36 22.26 L110.58 23.58 L110.81 24.94 L111.03 26.34 L111.25 27.79 L111.47 29.28 L111.69 30.82 L111.92 32.4 L112.14 34.02 L112.36 35.68 L112.58 37.37 L112.8 39.11 L113.02 40.88 L113.25 42.69 L113.47 44.54 L113.69 46.41 L113.91 48.32 L114.13 50.26 L114.35 52.23 L114.58 54.23 L114.8 56.26 L115.02 58.31 L115.24 60.39 L115.46 62.49 L115.68 64.61 L115.91 66.75 L116.13 68.92 L116.35 71.1 L116.57 73.3 L116.79 75.51 L117.01 77.74 L117.24 79.98 L117.46 82.23 L117.68 84.49 L117.9 86.76 L118.12 89.04 L118.34 91.32 L118.57 93.61 L118.79 95.89 L119.01 98.18 L119.23 100.48 L119.45 102.76 L119.67 105.05 L119.9 107.33 L120.12 109.61 L120.34 111.87 L120.56 114.13 L120.78 116.38 L121 118.62 L121.23 120.85 L121.45 123.06 L121.67 125.25 L121.89 127.43 L122.11 129.59 L122.33 131.73 L122.56 133.85 L122.78 135.94 L123 138.01 L123.22 140.06 L123.44 142.08 L123.66 144.07 L123.89 146.04 L124.11 147.97 L124.33 149.87 L124.55 151.74 L124.77 153.58 L124.99 155.38 L125.22 157.15 L125.44 158.88 L125.66 160.57 L125.88 162.22 L126.1 163.83 L126.32 165.4 L126.55 166.93 L126.77 168.41 L126.99 169.85 L127.21 171.25 L127.43 172.6 L127.65 173.9 L127.88 175.15 L128.1 176.36 L128.32 177.52 L128.54 178.63 L128.76 179.68 L128.98 180.69 L129.21 181.64 L129.43 182.55 L129.65 183.4 L129.87 184.19 L130.09 184.93 L130.31 185.62 L130.54 186.25 L130.76 186.83 L130.98 187.35 L131.2 187.82 L131.42 188.23 L131.65 188.58 L131.87 188.87 L132.09 189.11 L132.31 189.29 L132.53 189.42 L132.75 189.49 L132.98 189.5 L133.2 189.45 L133.42 189.35 L133.64 189.18 L133.86 188.96 L134.08 188.69 L134.31 188.36 L134.53 187.97 L134.75 187.52 L134.97 187.02 L135.19 186.46 L135.41 185.85 L135.64 185.18 L135.86 184.46 L136.08 183.68 L136.3 182.85 L136.52 181.97 L136.74 181.03 L136.97 180.05 L137.19 179.01 L137.41 177.92 L137.63 176.78 L137.85 175.59 L138.07 174.35 L138.3 173.06 L138.52 171.73 L138.74 170.35 L138.96 168.93 L139.18 167.46 L139.4 165.95 L139.63 164.39 L139.85 162.79 L140.07 161.16 L140.29 159.48 L140.51 157.76 L140.73 156.01 L140.96 154.22 L141.18 152.4 L141.4 150.54 L141.62 148.65 L141.84 146.73 L142.06 144.77 L142.29 142.79 L142.51 140.78 L142.73 138.74 L142.95 136.68 L143.17 134.59 L143.39 132.48 L143.62 130.35 L143.84 128.2 L144.06 126.02 L144.28 123.83 L144.5 121.63 L144.72 119.41 L144.95 117.18 L145.17 114.93 L145.39 112.68 L145.61 110.41 L145.83 108.14 L146.05 105.86 L146.28 103.57 L146.5 101.29 L146.72 99 L146.94 96.7 L147.16 94.42 L147.38 92.13 L147.61 89.84 L147.83 87.56 L148.05 85.29 L148.27 83.03 L148.49 80.77 L148.71 78.53 L148.94 76.3 L149.16 74.08 L149.38 71.87 L149.6 69.69 L149.82 67.52 L150.04 65.37 L150.27 63.24 L150.49 61.13 L150.71 59.04 L150.93 56.98 L151.15 54.95 L151.37 52.94 L151.6 50.96 L151.82 49.01 L152.04 47.09 L152.26 45.2 L152.48 43.34 L152.71 41.52 L152.93 39.73 L153.15 37.98 L153.37 36.27 L153.59 34.6 L153.81 32.97 L154.04 31.37 L154.26 29.82 L154.48 28.31 L154.7 26.85 L154.92 25.43 L155.14 24.05 L155.37 22.72 L155.59 21.44 L155.81 20.21 L156.03 19.02 L156.25 17.89 L156.47 16.8 L156.7 15.77 L156.92 14.78 L157.14 13.85 L157.36 12.97 L157.58 12.15 L157.8 11.37 L158.03 10.66 L158.25 9.99 L158.47 9.39 L158.69 8.83 L158.91 8.34 L159.13 7.9 L159.36 7.51 L159.58 7.18 L159.8 6.91 L160.02 6.7 L160.24 6.54 L160.46 6.44 L160.69 6.4 L160.91 6.42 L161.13 6.49 L161.35 6.62 L161.57 6.81 L161.79 7.05 L162.02 7.35 L162.24 7.71 L162.46 8.12 L162.68 8.59 L162.9 9.12 L163.12 9.7 L163.35 10.34 L163.57 11.03 L163.79 11.78 L164.01 12.58 L164.23 13.43 L164.45 14.34 L164.68 15.3 L164.9 16.31 L165.12 17.37 L165.34 18.48 L165.56 19.64 L165.78 20.85 L166.01 22.11 L166.23 23.42 L166.45 24.77 L166.67 26.17 L166.89 27.62 L167.11 29.1 L167.34 30.64 L167.56 32.21 L167.78 33.82 L168 35.48 L168.22 37.17 L168.44 38.9 L168.67 40.67 L168.89 42.48 L169.11 44.32 L169.33 46.19 L169.55 48.1 L169.77 50.03 L170 52 L170.22 53.99 L170.44 56.02 L170.66 58.07 L170.88 60.14 L171.1 62.24 L171.33 64.36 L171.55 66.5 L171.77 68.66 L171.99 70.84 L172.21 73.04 L172.44 75.25 L172.66 77.47 L172.88 79.71 L173.1 81.96 L173.32 84.22 L173.54 86.49 L173.77 88.77 L173.99 91.05 L174.21 93.34 L174.43 95.62 L174.65 97.91 L174.87 100.21 L175.1 102.49 L175.32 104.78 L175.54 107.06 L175.76 109.34 L175.98 111.61 L176.2 113.87 L176.43 116.12 L176.65 118.36 L176.87 120.58 L177.09 122.8 L177.31 124.99 L177.53 127.17 L177.76 129.33 L177.98 131.48 L178.2 133.6 L178.42 135.7 L178.64 137.77 L178.86 139.82 L179.09 141.84 L179.31 143.84 L179.53 145.81 L179.75 147.75 L179.97 149.65 L180.19 151.53 L180.42 153.37 L180.64 155.17 L180.86 156.94 L181.08 158.68 L181.3 160.37 L181.52 162.03 L181.75 163.64 L181.97 165.22 L182.19 166.75 L182.41 168.24 L182.63 169.68 L182.85 171.08 L183.08 172.44 L183.3 173.75 L183.52 175.01 L183.74 176.22 L183.96 177.38 L184.18 178.5 L184.41 179.56 L184.63 180.57 L184.85 181.53 L185.07 182.44 L185.29 183.3 L185.51 184.1 L185.74 184.85 L185.96 185.54 L186.18 186.18 L186.4 186.76 L186.62 187.29 L186.84 187.76 L187.07 188.18 L187.29 188.54 L187.51 188.84 L187.73 189.09 L187.95 189.28 L188.17 189.41 L188.4 189.48 L188.62 189.5 L188.84 189.46 L189.06 189.36 L189.28 189.21 L189.5 188.99 L189.73 188.72 L189.95 188.4 L190.17 188.02 L190.39 187.58 L190.61 187.08 L190.83 186.53 L191.06 185.93 L191.28 185.26 L191.5 184.55 L191.72 183.78 L191.94 182.95 L192.16 182.08 L192.39 181.15 L192.61 180.17 L192.83 179.13 L193.05 178.05 L193.27 176.91 L193.5 175.73 L193.72 174.5 L193.94 173.22 L194.16 171.89 L194.38 170.52 L194.6 169.1 L194.83 167.63 L195.05 166.13 L195.27 164.58 L195.49 162.98 L195.71 161.35 L195.93 159.68 L196.16 157.97 L196.38 156.22 L196.6 154.44 L196.82 152.62 L197.04 150.76 L197.26 148.87 L197.49 146.95 L197.71 145 L197.93 143.02 L198.15 141.02 L198.37 138.98 L198.59 136.92 L198.82 134.84 L199.04 132.73 L199.26 130.6 L199.48 128.45 L199.7 126.28 L199.92 124.09 L200.15 121.89 L200.37 119.67 L200.59 117.44 L200.81 115.2 L201.03 112.94 L201.25 110.68 L201.48 108.41 L201.7 106.13 L201.92 103.84 L202.14 101.56 L202.36 99.27 L202.58 96.98 L202.81 94.69 L203.03 92.4 L203.25 90.11 L203.47 87.83 L203.69 85.56 L203.91 83.29 L204.14 81.04 L204.36 78.79 L204.58 76.56 L204.8 74.34 L205.02 72.13 L205.24 69.94 L205.47 67.77 L205.69 65.62 L205.91 63.49 L206.13 61.37 L206.35 59.29 L206.57 57.22 L206.8 55.18 L207.02 53.17 L207.24 51.19 L207.46 49.23 L207.68 47.31 L207.9 45.42 L208.13 43.56 L208.35 41.73 L208.57 39.94 L208.79 38.19 L209.01 36.47 L209.23 34.79 L209.46 33.16 L209.68 31.56 L209.9 30 L210.12 28.49 L210.34 27.02 L210.56 25.59 L210.79 24.21 L211.01 22.88 L211.23 21.59 L211.45 20.35 L211.67 19.16 L211.89 18.02 L212.12 16.93 L212.34 15.89 L212.56 14.9 L212.78 13.96 L213 13.07 L213.23 12.24 L213.45 11.46 L213.67 10.74 L213.89 10.07 L214.11 9.46 L214.33 8.9 L214.56 8.39 L214.78 7.95 L215 7.55 L215.22 7.22 L215.44 6.94 L215.66 6.72 L215.89 6.56 L216.11 6.45 L216.33 6.4 L216.55 6.41 L216.77 6.48 L216.99 6.6 L217.22 6.78 L217.44 7.02 L217.66 7.31 L217.88 7.66 L218.1 8.07 L218.32 8.53 L218.55 9.05 L218.77 9.63 L218.99 10.26 L219.21 10.94 L219.43 11.68 L219.65 12.48 L219.88 13.33 L220.1 14.23 L220.32 15.18 L220.54 16.18 L220.76 17.24 L220.98 18.35 L221.21 19.5 L221.43 20.71 L221.65 21.96 L221.87 23.26 L222.09 24.61 L222.31 26 L222.54 27.44 L222.76 28.93 L222.98 30.45 L223.2 32.02 L223.42 33.63 L223.64 35.28 L223.87 36.97 L224.09 38.7 L224.31 40.46 L224.53 42.26 L224.75 44.1 L224.97 45.97 L225.2 47.87 L225.42 49.8 L225.64 51.77 L225.86 53.76 L226.08 55.78 L226.3 57.82 L226.53 59.89 L226.75 61.99 L226.97 64.11 L227.19 66.25 L227.41 68.4 L227.63 70.58 L227.86 72.78 L228.08 74.99 L228.3 77.21 L228.52 79.45 L228.74 81.7 L228.96 83.96 L229.19 86.22 L229.41 88.5 L229.63 90.78 L229.85 93.07 L230.07 95.35 L230.29 97.64 L230.52 99.93 L230.74 102.22 L230.96 104.51 L231.18 106.79 L231.4 109.07 L231.62 111.34 L231.85 113.6 L232.07 115.85 L232.29 118.09 L232.51 120.32 L232.73 122.54 L232.95 124.73 L233.18 126.92 L233.4 129.08 L233.62 131.22 L233.84 133.35 L234.06 135.45 L234.29 137.53 L234.51 139.58 L234.73 141.61 L234.95 143.61 L235.17 145.58 L235.39 147.52 L235.62 149.43 L235.84 151.31 L236.06 153.15 L236.28 154.96 L236.5 156.74 L236.72 158.47 L236.95 160.17 L237.17 161.83 L237.39 163.45 L237.61 165.03 L237.83 166.57 L238.05 168.07 L238.28 169.52 L238.5 170.92 L238.72 172.28 L238.94 173.6 L239.16 174.86 L239.38 176.08 L239.61 177.25 L239.83 178.37 L240.05 179.44 L240.27 180.46 L240.49 181.42 L240.71 182.34 L240.94 183.2 L241.16 184.01 L241.38 184.76 L241.6 185.46 L241.82 186.11 L242.04 186.7 L242.27 187.23 L242.49 187.71 L242.71 188.13 L242.93 188.5 L243.15 188.81 L243.37 189.06 L243.6 189.26 L243.82 189.4 L244.04 189.48 L244.26 189.5 L244.48 189.47 L244.7 189.38 L244.93 189.23 L245.15 189.02 L245.37 188.76 L245.59 188.44 L245.81 188.06 L246.03 187.63 L246.26 187.14 L246.48 186.6 L246.7 186 L246.92 185.35 L247.14 184.64 L247.36 183.87 L247.59 183.05 L247.81 182.18 L248.03 181.26 L248.25 180.28 L248.47 179.26 L248.69 178.18 L248.92 177.05 L249.14 175.87 L249.36 174.65 L249.58 173.37 L249.8 172.05 L250.02 170.68 L250.25 169.27 L250.47 167.81 L250.69 166.31 L250.91 164.76 L251.13 163.17 L251.35 161.55 L251.58 159.88 L251.8 158.17 L252.02 156.43 L252.24 154.65 L252.46 152.83 L252.68 150.98 L252.91 149.1 L253.13 147.18 L253.35 145.24 L253.57 143.26 L253.79 141.26 L254.02 139.22 L254.24 137.17 L254.46 135.08 L254.68 132.98 L254.9 130.85 L255.12 128.7 L255.35 126.54 L255.57 124.35 L255.79 122.15 L256.01 119.93 L256.23 117.7 L256.45 115.46 L256.68 113.21 L256.9 110.95 L257.12 108.67 L257.34 106.4 L257.56 104.11 L257.78 101.83 L258.01 99.54 L258.23 97.25 L258.45 94.96 L258.67 92.67 L258.89 90.38 L259.11 88.1 L259.34 85.83 L259.56 83.56 L259.78 81.3 L260 79.06 L260.22 76.82 L260.44 74.6 L260.67 72.39 L260.89 70.2 L261.11 68.03 L261.33 65.87 L261.55 63.74 L261.77 61.62 L262 59.53 L262.22 57.46 L262.44 55.42 L262.66 53.41 L262.88 51.42 L263.1 49.46 L263.33 47.54 L263.55 45.64 L263.77 43.78 L263.99 41.95 L264.21 40.15 L264.43 38.39 L264.66 36.67 L264.88 34.99 L265.1 33.35 L265.32 31.74 L265.54 30.18 L265.76 28.66 L265.99 27.19 L266.21 25.76 L266.43 24.37 L266.65 23.03 L266.87 21.74 L267.09 20.49 L267.32 19.3 L267.54 18.15 L267.76 17.05 L267.98 16.01 L268.2 15.01 L268.42 14.07 L268.65 13.17 L268.87 12.34 L269.09 11.55 L269.31 10.82 L269.53 10.15 L269.75 9.52 L269.98 8.96 L270.2 8.45 L270.42 8 L270.64 7.6 L270.86 7.26 L271.08 6.97 L271.31 6.75 L271.53 6.58 L271.75 6.46 L271.97 6.41 L272.19 6.41 L272.41 6.47 L272.64 6.58 L272.86 6.76 L273.08 6.99 L273.3 7.27 L273.52 7.62 L273.74 8.02 L273.97 8.48 L274.19 8.99 L274.41 9.56 L274.63 10.18 L274.85 10.86 L275.08 11.59 L275.3 12.38 L275.52 13.22 L275.74 14.12 L275.96 15.06 L276.18 16.06 L276.41 17.11 L276.63 18.21 L276.85 19.36 L277.07 20.56 L277.29 21.81 L277.51 23.11 L277.74 24.45 L277.96 25.84 L278.18 27.27 L278.4 28.75 L278.62 30.27 L278.84 31.83 L279.07 33.44 L279.29 35.08 L279.51 36.77 L279.73 38.49 L279.95 40.25 L280.17 42.05 L280.4 43.88 L280.62 45.75 L280.84 47.64 L281.06 49.57 L281.28 51.53 L281.5 53.52 L281.73 55.54 L281.95 57.58 L282.17 59.65 L282.39 61.74 L282.61 63.86 L282.83 65.99 L283.06 68.15 L283.28 70.32 L283.5 72.52 L283.72 74.72 L283.94 76.95 L284.16 79.18 L284.39 81.43 L284.61 83.69 L284.83 85.96 L285.05 88.23 L285.27 90.51 L285.49 92.8 L285.72 95.08 L285.94 97.37 L286.16 99.66 L286.38 101.95 L286.6 104.24 L286.82 106.52 L287.05 108.8 L287.27 111.07 L287.49 113.34 L287.71 115.59 L287.93 117.83 L288.15 120.06 L288.38 122.28 L288.6 124.48 L288.82 126.66 L289.04 128.83 L289.26 130.97 L289.48 133.1 L289.71 135.2 L289.93 137.28 L290.15 139.34 L290.37 141.37 L290.59 143.37 L290.81 145.35 L291.04 147.29 L291.26 149.2 L291.48 151.09 L291.7 152.93 L291.92 154.75 L292.14 156.53 L292.37 158.27 L292.59 159.97 L292.81 161.64 L293.03 163.26 L293.25 164.85 L293.47 166.39 L293.7 167.89 L293.92 169.35 L294.14 170.76 L294.36 172.12 L294.58 173.44 L294.81 174.72 L295.03 175.94 L295.25 177.11 L295.47 178.24 L295.69 179.32 L295.91 180.34 L296.14 181.31 L296.36 182.23 L296.58 183.1 L296.8 183.92 L297.02 184.68 L297.24 185.38 L297.47 186.04 L297.69 186.63 L297.91 187.17 L298.13 187.66 L298.35 188.09 L298.57 188.46 L298.8 188.78 L299.02 189.03 L299.24 189.24 L299.46 189.38 L299.68 189.47 L299.9 189.5 L300.13 189.47 L300.35 189.39 L300.57 189.25 L300.79 189.05 L301.01 188.79 L301.23 188.48 L301.46 188.11 L301.68 187.69 L301.9 187.2 L302.12 186.67 L302.34 186.07 L302.56 185.43 L302.79 184.72 L303.01 183.96 L303.23 183.15 L303.45 182.29 L303.67 181.37 L303.89 180.4 L304.12 179.38 L304.34 178.31 L304.56 177.19 L304.78 176.01 L305 174.79 L305.22 173.52 L305.45 172.21 L305.67 170.84 L305.89 169.44 L306.11 167.98 L306.33 166.49 L306.55 164.95 L306.78 163.36 L307 161.74 L307.22 160.08 L307.44 158.38 L307.66 156.64 L307.88 154.86 L308.11 153.05 L308.33 151.2 L308.55 149.32 L308.77 147.41 L308.99 145.47 L309.21 143.49 L309.44 141.49 L309.66 139.46 L309.88 137.41 L310.1 135.33 L310.32 133.23 L310.54 131.1 L310.77 128.96 L310.99 126.79 L311.21 124.61 L311.43 122.41 L311.65 120.2 L311.87 117.97 L312.1 115.73 L312.32 113.47 L312.54 111.21 L312.76 108.94 L312.98 106.67 L313.2 104.38 L313.43 102.1 L313.65 99.81 L313.87 97.52 L314.09 95.23 L314.31 92.94 L314.53 90.65 L314.76 88.37 L314.98 86.1 L315.2 83.83" class="cr"/>
<path d="M407.4 128.7 L407.6 31.8 L408.2 165 L408.9 31.8 L409.6 107 L409.74 108.46 L409.96 109.2 L410.18 109.98 L410.4 110.82 L410.62 111.68 L410.84 112.58 L411.06 113.51 L411.28 114.46 L411.5 115.42 L411.72 116.39 L411.94 117.36 L412.16 118.34 L412.38 119.3 L412.6 120.25 L412.82 121.18 L413.04 122.11 L413.26 123.02 L413.48 123.92 L413.7 124.82 L413.92 125.7 L414.14 126.58 L414.36 127.44 L414.58 128.3 L414.8 129.15 L415.02 129.99 L415.24 130.83 L415.46 131.66 L415.68 132.49 L415.9 133.31 L416.12 134.12 L416.34 134.93 L416.56 135.74 L416.78 136.53 L417 137.32 L417.22 138.1 L417.44 138.86 L417.66 139.61 L417.88 140.34 L418.1 141.05 L418.32 141.75 L418.54 142.43 L418.76 143.08 L418.98 143.71 L419.19 144.32 L419.41 144.9 L419.63 145.45 L419.85 145.97 L420.07 146.46 L420.29 146.93 L420.51 147.37 L420.73 147.78 L420.95 148.16 L421.17 148.51 L421.39 148.84 L421.61 149.15 L421.83 149.42 L422.05 149.68 L422.27 149.9 L422.49 150.11 L422.71 150.29 L422.93 150.44 L423.15 150.58 L423.37 150.69 L423.59 150.78 L423.81 150.84 L424.03 150.89 L424.25 150.91 L424.47 150.91 L424.69 150.89 L424.91 150.85 L425.13 150.78 L425.35 150.69 L425.57 150.58 L425.79 150.45 L426.01 150.29 L426.23 150.1 L426.45 149.89 L426.67 149.66 L426.89 149.4 L427.11 149.11 L427.33 148.79 L427.55 148.45 L427.77 148.08 L427.99 147.69 L428.21 147.26 L428.43 146.81 L428.65 146.33 L428.87 145.82 L429.09 145.28 L429.31 144.73 L429.53 144.14 L429.75 143.54 L429.97 142.92 L430.19 142.28 L430.41 141.62 L430.63 140.95 L430.85 140.27 L431.07 139.57 L431.29 138.86 L431.51 138.14 L431.73 137.42 L431.95 136.69 L432.17 135.96 L432.39 135.22 L432.61 134.49 L432.83 133.75 L433.05 133.02 L433.27 132.29 L433.49 131.56 L433.71 130.84 L433.93 130.13 L434.15 129.43 L434.37 128.74 L434.59 128.07 L434.81 127.4 L435.03 126.75 L435.25 126.1 L435.47 125.47 L435.69 124.85 L435.91 124.24 L436.13 123.64 L436.35 123.05 L436.57 122.48 L436.79 121.91 L437.01 121.35 L437.23 120.81 L437.45 120.27 L437.67 119.74 L437.89 119.23 L438.11 118.72 L438.33 118.22 L438.55 117.73 L438.77 117.26 L438.99 116.79 L439.21 116.33 L439.43 115.88 L439.65 115.43 L439.87 115 L440.09 114.57 L440.31 114.16 L440.53 113.75 L440.75 113.35 L440.97 112.96 L441.19 112.57 L441.4 112.2 L441.62 111.83 L441.84 111.47 L442.06 111.11 L442.28 110.77 L442.5 110.43 L442.72 110.1 L442.94 109.78 L443.16 109.47 L443.38 109.17 L443.6 108.88 L443.82 108.59 L444.04 108.32 L444.26 108.06 L444.48 107.8 L444.7 107.56 L444.92 107.32 L445.14 107.1 L445.36 106.89 L445.58 106.69 L445.8 106.5 L446.02 106.32 L446.24 106.15 L446.46 105.99 L446.68 105.85 L446.9 105.71 L447.12 105.59 L447.34 105.48 L447.56 105.39 L447.78 105.31 L448 105.24 L448.22 105.18 L448.44 105.13 L448.66 105.1 L448.88 105.09 L449.1 105.08 L449.32 105.09 L449.54 105.12 L449.76 105.16 L449.98 105.21 L450.2 105.28 L450.42 105.36 L450.64 105.45 L450.86 105.56 L451.08 105.68 L451.3 105.81 L451.52 105.96 L451.74 106.12 L451.96 106.29 L452.18 106.48 L452.4 106.68 L452.62 106.89 L452.84 107.11 L453.06 107.35 L453.28 107.6 L453.5 107.87 L453.72 108.15 L453.94 108.44 L454.16 108.74 L454.38 109.05 L454.6 109.38 L454.82 109.72 L455.04 110.07 L455.26 110.43 L455.48 110.8 L455.7 111.18 L455.92 111.58 L456.14 111.98 L456.36 112.39 L456.58 112.82 L456.8 113.25 L457.02 113.69 L457.24 114.14 L457.46 114.6 L457.68 115.06 L457.9 115.54 L458.12 116.02 L458.34 116.51 L458.56 117.01 L458.78 117.51 L459 118.02 L459.22 118.54 L459.44 119.07 L459.66 119.59 L459.88 120.13 L460.1 120.67 L460.32 121.21 L460.54 121.76 L460.76 122.31 L460.98 122.86 L461.2 123.42 L461.42 123.98 L461.64 124.55 L461.86 125.12 L462.08 125.68 L462.3 126.25 L462.52 126.82 L462.74 127.4 L462.96 127.97 L463.18 128.54 L463.39 129.11 L463.61 129.68 L463.83 130.25 L464.05 130.82 L464.27 131.39 L464.49 131.96 L464.71 132.52 L464.93 133.08 L465.15 133.64 L465.37 134.19 L465.59 134.74 L465.81 135.29 L466.03 135.83 L466.25 136.37 L466.47 136.9 L466.69 137.43 L466.91 137.95 L467.13 138.46 L467.35 138.97 L467.57 139.48 L467.79 139.97 L468.01 140.46 L468.23 140.94 L468.45 141.41 L468.67 141.88 L468.89 142.33 L469.11 142.78 L469.33 143.22 L469.55 143.65 L469.77 144.07 L469.99 144.48 L470.21 144.88 L470.43 145.27 L470.65 145.65 L470.87 146.01 L471.09 146.37 L471.31 146.72 L471.53 147.05 L471.75 147.38 L471.97 147.69 L472.19 147.99 L472.41 148.27 L472.63 148.55 L472.85 148.81 L473.07 149.06 L473.29 149.3 L473.51 149.52 L473.73 149.73 L473.95 149.93 L474.17 150.11 L474.39 150.28 L474.61 150.44 L474.83 150.58 L475.05 150.71 L475.27 150.83 L475.49 150.93 L475.71 151.02 L475.93 151.09 L476.15 151.15 L476.37 151.2 L476.59 151.23 L476.81 151.25 L477.03 151.25 L477.25 151.24 L477.47 151.21 L477.69 151.17 L477.91 151.12 L478.13 151.05 L478.35 150.97 L478.57 150.87 L478.79 150.76 L479.01 150.64 L479.23 150.5 L479.45 150.35 L479.67 150.19 L479.89 150.01 L480.11 149.82 L480.33 149.61 L480.55 149.39 L480.77 149.16 L480.99 148.92 L481.21 148.66 L481.43 148.39 L481.65 148.11 L481.87 147.81 L482.09 147.51 L482.31 147.19 L482.53 146.86 L482.75 146.52 L482.97 146.17 L483.19 145.8 L483.41 145.43 L483.63 145.04 L483.85 144.65 L484.07 144.24 L484.29 143.82 L484.51 143.4 L484.73 142.96 L484.95 142.52 L485.17 142.07 L485.39 141.61 L485.6 141.14 L485.82 140.66 L486.04 140.18 L486.26 139.68 L486.48 139.18 L486.7 138.68 L486.92 138.16 L487.14 137.65 L487.36 137.12 L487.58 136.59 L487.8 136.06 L488.02 135.52 L488.24 134.97 L488.46 134.42 L488.68 133.87 L488.9 133.31 L489.12 132.75 L489.34 132.19 L489.56 131.63 L489.78 131.06 L490 130.49 L490.22 129.92 L490.44 129.35 L490.66 128.78 L490.88 128.21 L491.1 127.63 L491.32 127.06 L491.54 126.49 L491.76 125.92 L491.98 125.35 L492.2 124.79 L492.42 124.22 L492.64 123.66 L492.86 123.1 L493.08 122.54 L493.3 121.99 L493.52 121.44 L493.74 120.89 L493.96 120.35 L494.18 119.82 L494.4 119.29 L494.62 118.76 L494.84 118.24 L495.06 117.73 L495.28 117.22 L495.5 116.72 L495.72 116.23 L495.94 115.74 L496.16 115.26 L496.38 114.79 L496.6 114.33 L496.82 113.88 L497.04 113.43 L497.26 112.99 L497.48 112.57 L497.7 112.15 L497.92 111.74 L498.14 111.35 L498.36 110.96 L498.58 110.58 L498.8 110.22 L499.02 109.86 L499.24 109.52 L499.46 109.19 L499.68 108.87 L499.9 108.56 L500.12 108.27 L500.34 107.98 L500.56 107.71 L500.78 107.45 L501 107.21 L501.22 106.97 L501.44 106.75 L501.66 106.55 L501.88 106.35 L502.1 106.17 L502.32 106 L502.54 105.85 L502.76 105.71 L502.98 105.59 L503.2 105.47 L503.42 105.38 L503.64 105.29 L503.86 105.22 L504.08 105.17 L504.3 105.13 L504.52 105.1 L504.74 105.09 L504.96 105.09 L505.18 105.1 L505.4 105.13 L505.62 105.17 L505.84 105.23 L506.06 105.3 L506.28 105.39 L506.5 105.49 L506.72 105.6 L506.94 105.73 L507.16 105.87 L507.38 106.03 L507.59 106.2 L507.81 106.38 L508.03 106.57 L508.25 106.78 L508.47 107 L508.69 107.24 L508.91 107.49 L509.13 107.75 L509.35 108.02 L509.57 108.31 L509.79 108.6 L510.01 108.91 L510.23 109.24 L510.45 109.57 L510.67 109.91 L510.89 110.27 L511.11 110.64 L511.33 111.01 L511.55 111.4 L511.77 111.8 L511.99 112.21 L512.21 112.63 L512.43 113.06 L512.65 113.49 L512.87 113.94 L513.09 114.39 L513.31 114.86 L513.53 115.33 L513.75 115.81 L513.97 116.3 L514.19 116.79 L514.41 117.29 L514.63 117.8 L514.85 118.31 L515.07 118.83 L515.29 119.36 L515.51 119.89 L515.73 120.43 L515.95 120.97 L516.17 121.52 L516.39 122.07 L516.61 122.62 L516.83 123.18 L517.05 123.74 L517.27 124.3 L517.49 124.86 L517.71 125.43 L517.93 126 L518.15 126.57 L518.37 127.14 L518.59 127.71 L518.81 128.29 L519.03 128.86 L519.25 129.43 L519.47 130 L519.69 130.57 L519.91 131.14 L520.13 131.71 L520.35 132.27 L520.57 132.83 L520.79 133.39 L521.01 133.95 L521.23 134.5 L521.45 135.05 L521.67 135.59 L521.89 136.13 L522.11 136.67 L522.33 137.2 L522.55 137.72 L522.77 138.24 L522.99 138.75 L523.21 139.25 L523.43 139.75 L523.65 140.24 L523.87 140.73 L524.09 141.2 L524.31 141.67 L524.53 142.13 L524.75 142.58 L524.97 143.03 L525.19 143.46 L525.41 143.88 L525.63 144.3 L525.85 144.7 L526.07 145.1 L526.29 145.48 L526.51 145.85 L526.73 146.22 L526.95 146.57 L527.17 146.91 L527.39 147.24 L527.61 147.55 L527.83 147.86 L528.05 148.15 L528.27 148.43 L528.49 148.7 L528.71 148.95 L528.93 149.19 L529.15 149.42 L529.37 149.64 L529.59 149.84 L529.8 150.03 L530.02 150.21 L530.24 150.37 L530.46 150.52 L530.68 150.66 L530.9 150.78 L531.12 150.89 L531.34 150.98 L531.56 151.06 L531.78 151.13 L532 151.18 L532.22 151.22 L532.44 151.24 L532.66 151.25 L532.88 151.25 L533.1 151.23 L533.32 151.19 L533.54 151.15 L533.76 151.08 L533.98 151.01 L534.2 150.92 L534.42 150.81 L534.64 150.7 L534.86 150.57 L535.08 150.42 L535.3 150.26 L535.52 150.09 L535.74 149.9 L535.96 149.7 L536.18 149.49 L536.4 149.27 L536.62 149.03 L536.84 148.78 L537.06 148.51 L537.28 148.23 L537.5 147.95 L537.72 147.64 L537.94 147.33 L538.16 147.01 L538.38 146.67 L538.6 146.32 L538.82 145.96 L539.04 145.59 L539.26 145.21 L539.48 144.82 L539.7 144.42 L539.92 144.01 L540.14 143.59 L540.36 143.16 L540.58 142.72 L540.8 142.27 L541.02 141.81 L541.24 141.35 L541.46 140.87 L541.68 140.39 L541.9 139.9 L542.12 139.41 L542.34 138.9 L542.56 138.39 L542.78 137.88 L543 137.35 L543.22 136.83 L543.44 136.29 L543.66 135.75 L543.88 135.21 L544.1 134.66 L544.32 134.11 L544.54 133.56 L544.76 133 L544.98 132.44 L545.2 131.88 L545.42 131.31 L545.64 130.74 L545.86 130.17 L546.08 129.6 L546.3 129.03 L546.52 128.46 L546.74 127.89 L546.96 127.31 L547.18 126.74 L547.4 126.17 L547.62 125.6 L547.84 125.04 L548.06 124.47 L548.28 123.91 L548.5 123.34 L548.72 122.79 L548.94 122.23 L549.16 121.68 L549.38 121.13 L549.6 120.59 L549.82 120.05 L550.04 119.52 L550.26 118.99 L550.48 118.47 L550.7 117.95 L550.92 117.44 L551.14 116.94 L551.36 116.44 L551.58 115.95 L551.8 115.47 L552.01 115 L552.23 114.53 L552.45 114.07 L552.67 113.63 L552.89 113.19 L553.11 112.75 L553.33 112.33 L553.55 111.92 L553.77 111.52 L553.99 111.13 L554.21 110.75 L554.43 110.38 L554.65 110.02 L554.87 109.67 L555.09 109.33 L555.31 109.01 L555.53 108.7 L555.75 108.39 L555.97 108.11 L556.19 107.83 L556.41 107.56 L556.63 107.31 L556.85 107.07 L557.07 106.85 L557.29 106.63 L557.51 106.44 L557.73 106.25 L557.95 106.08 L558.17 105.92 L558.39 105.77 L558.61 105.64 L558.83 105.52 L559.05 105.42 L559.27 105.33 L559.49 105.25 L559.71 105.19 L559.93 105.14 L560.15 105.11 L560.37 105.09 L560.59 105.08 L560.81 105.09 L561.03 105.12 L561.25 105.15 L561.47 105.2 L561.69 105.27 L561.91 105.35 L562.13 105.44 L562.35 105.55 L562.57 105.67 L562.79 105.81 L563.01 105.96 L563.23 106.12 L563.45 106.3 L563.67 106.49 L563.89 106.69 L564.11 106.9 L564.33 107.13 L564.55 107.38 L564.77 107.63 L564.99 107.9 L565.21 108.18 L565.43 108.47 L565.65 108.78 L565.87 109.09 L566.09 109.42 L566.31 109.76 L566.53 110.11 L566.75 110.47 L566.97 110.85 L567.19 111.23 L567.41 111.62 L567.63 112.03 L567.85 112.44 L568.07 112.87 L568.29 113.3 L568.51 113.74 L568.73 114.19 L568.95 114.65 L569.17 115.12 L569.39 115.6 L569.61 116.08 L569.83 116.57 L570.05 117.07 L570.27 117.57 L570.49 118.09 L570.71 118.6 L570.93 119.13 L571.15 119.66 L571.37 120.19 L571.59 120.73 L571.81 121.27 L572.03 121.82 L572.25 122.37 L572.47 122.93 L572.69 123.49 L572.91 124.05 L573.13 124.62 L573.35 125.18 L573.57 125.75 L573.79 126.32 L574 126.89 L574.22 127.46 L574.44 128.03 L574.66 128.61 L574.88 129.18 L575.1 129.75 L575.32 130.32 L575.54 130.89 L575.76 131.46 L575.98 132.02 L576.2 132.59 L576.42 133.15 L576.64 133.7 L576.86 134.26 L577.08 134.81 L577.3 135.35 L577.52 135.89 L577.74 136.43 L577.96 136.96 L578.18 137.49 L578.4 138.01 L578.62 138.52 L578.84 139.03 L579.06 139.53 L579.28 140.03 L579.5 140.52 L579.72 141 L579.94 141.47 L580.16 141.93 L580.38 142.39 L580.6 142.83 L580.82 143.27 L581.04 143.7 L581.26 144.12 L581.48 144.53 L581.7 144.92 L581.92 145.31 L582.14 145.69 L582.36 146.06 L582.58 146.41 L582.8 146.76 L583.02 147.09 L583.24 147.41 L583.46 147.72 L583.68 148.02 L583.9 148.31 L584.12 148.58 L584.34 148.84 L584.56 149.09 L584.78 149.32 L585 149.55 L585.22 149.76 L585.44 149.95 L585.66 150.13 L585.88 150.3 L586.1 150.46 L586.32 150.6 L586.54 150.73 L586.76 150.84 L586.98 150.94 L587.2 151.03 L587.42 151.1 L587.64 151.16 L587.86 151.2 L588.08 151.23 L588.3 151.25 L588.52 151.25 L588.74 151.24 L588.96 151.21 L589.18 151.17 L589.4 151.11 L589.62 151.04 L589.84 150.96 L590.06 150.86 L590.28 150.75 L590.5 150.63 L590.72 150.49 L590.94 150.33 L591.16 150.17 L591.38 149.99 L591.6 149.79 L591.82 149.59 L592.04 149.37 L592.26 149.13 L592.48 148.89 L592.7 148.63 L592.92 148.36 L593.14 148.07 L593.36 147.78 L593.58 147.47 L593.8 147.15 L594.02 146.82 L594.24 146.48 L594.46 146.12 L594.68 145.76 L594.9 145.38 L595.12 145 L595.34 144.6 L595.56 144.19 L595.78 143.77 L596 143.35 L596.21 142.91 L596.43 142.47 L596.65 142.01 L596.87 141.55 L597.09 141.08 L597.31 140.6 L597.53 140.12 L597.75 139.62 L597.97 139.12 L598.19 138.62 L598.41 138.1 L598.63 137.58 L598.85 137.06 L599.07 136.53 L599.29 135.99 L599.51 135.45 L599.73 134.91 L599.95 134.36 L600.17 133.8 L600.39 133.25 L600.61 132.69 L600.83 132.13 L601.05 131.56 L601.27 130.99 L601.49 130.42 L601.71 129.85 L601.93 129.28 L602.15 128.71 L602.37 128.14 L602.59 127.57 L602.81 127 L603.03 126.42 L603.25 125.85 L603.47 125.29 L603.69 124.72 L603.91 124.15 L604.13 123.59 L604.35 123.03 L604.57 122.48 L604.79 121.92 L605.01 121.37 L605.23 120.83 L605.45 120.29 L605.67 119.75 L605.89 119.22 L606.11 118.7 L606.33 118.18 L606.55 117.67 L606.77 117.16 L606.99 116.66 L607.21 116.17 L607.43 115.68 L607.65 115.21 L607.87 114.74 L608.09 114.28 L608.31 113.82 L608.53 113.38 L608.75 112.94 L608.97 112.52 L609.19 112.1 L609.41 111.7 L609.63 111.3 L609.85 110.92 L610.07 110.54 L610.29 110.18 L610.51 109.82 L610.73 109.48 L610.95 109.15 L611.17 108.83 L611.39 108.53 L611.61 108.23 L611.83 107.95 L612.05 107.68 L612.27 107.42 L612.49 107.18 L612.71 106.95 L612.93 106.73 L613.15 106.52 L613.37 106.33 L613.59 106.15 L613.81 105.99 L614.03 105.83 L614.25 105.7 L614.47 105.57 L614.69 105.46 L614.91 105.37 L615.13 105.28 L615.35 105.22 L615.57 105.16 L615.79 105.12 L616.01 105.1 L616.23 105.08 L616.45 105.09 L616.67 105.1 L616.89 105.13 L617.11 105.18 L617.33 105.24 L617.55 105.31 L617.77 105.4 L617.99 105.5 L618.2 105.62 L618.42 105.75 L618.64 105.89 L618.86 106.05 L619.08 106.22 L619.3 106.4 L619.52 106.6 L619.74 106.81 L619.96 107.03 L620.18 107.27 L620.4 107.52 L620.62 107.78 L620.84 108.05 L621.06 108.34 L621.28 108.64 L621.5 108.95 L621.72 109.27 L621.94 109.61 L622.16 109.95 L622.38 110.31 L622.6 110.68 L622.82 111.06 L623.04 111.45 L623.26 111.85 L623.48 112.26 L623.7 112.68 L623.92 113.11 L624.14 113.54 L624.36 113.99 L624.58 114.45 L624.8 114.91 L625.02 115.38 L625.24 115.86 L625.46 116.35 L625.68 116.85 L625.9 117.35 L626.12 117.86 L626.34 118.37 L626.56 118.9 L626.78 119.42 L627 119.95 L627.22 120.49 L627.44 121.03 L627.66 121.58 L627.88 122.13 L628.1 122.68 L628.32 123.24 L628.54 123.8 L628.76 124.37 L628.98 124.93 L629.2 125.5 L629.42 126.07 L629.64 126.64 L629.86 127.21 L630.08 127.78 L630.3 128.35 L630.52 128.93 L630.74 129.5 L630.96 130.07 L631.18 130.64 L631.4 131.21 L631.62 131.77 L631.84 132.34 L632.06 132.9 L632.28 133.46 L632.5 134.01 L632.72 134.56 L632.94 135.11 L633.16 135.66 L633.38 136.19 L633.6 136.73 L633.82 137.26 L634.04 137.78 L634.26 138.3 L634.48 138.81 L634.7 139.31 L634.92 139.81 L635.14 140.3 L635.36 140.78 L635.58 141.26 L635.8 141.73 L636.02 142.19 L636.24 142.64 L636.46 143.08 L636.68 143.51 L636.9 143.93 L637.12 144.35 L637.34 144.75 L637.56 145.14 L637.78 145.52 L638 145.9 L638.22 146.26 L638.44 146.61 L638.66 146.95 L638.88 147.27 L639.1 147.59 L639.32 147.89 L639.54 148.18 L639.76 148.46 L639.98 148.73 L640.2 148.98 L640.41 149.22 L640.63 149.45 L640.85 149.67 L641.07 149.87 L641.29 150.06 L641.51 150.23 L641.73 150.39 L641.95 150.54 L642.17 150.67 L642.39 150.79 L642.61 150.9 L642.83 150.99 L643.05 151.07 L643.27 151.13 L643.49 151.18 L643.71 151.22 L643.93 151.24 L644.15 151.25 L644.37 151.24 L644.59 151.22 L644.81 151.19 L645.03 151.14 L645.25 151.08 L645.47 151 L645.69 150.91 L645.91 150.8 L646.13 150.68 L646.35 150.55 L646.57 150.4 L646.79 150.24 L647.01 150.07 L647.23 149.88 L647.45 149.68 L647.67 149.47 L647.89 149.24 L648.11 149 L648.33 148.74 L648.55 148.48 L648.77 148.2 L648.99 147.91 L649.21 147.61 L649.43 147.29 L649.65 146.97 L649.87 146.63 L650.09 146.28 L650.31 145.92 L650.53 145.55 L650.75 145.17 L650.97 144.78 L651.19 144.37 L651.41 143.96 L651.63 143.54 L651.85 143.11 L652.07 142.67 L652.29 142.22 L652.51 141.76 L652.73 141.29 L652.95 140.82 L653.17 140.33 L653.39 139.84 L653.61 139.35 L653.83 138.84 L654.05 138.33 L654.27 137.81 L654.49 137.29 L654.71 136.76 L654.93 136.23 L655.15 135.69 L655.37 135.15 L655.59 134.6 L655.81 134.05 L656.03 133.49 L656.25 132.94 L656.47 132.37 L656.69 131.81 L656.91 131.24 L657.13 130.68 L657.35 130.11 L657.57 129.54 L657.79 128.96 L658.01 128.39 L658.23 127.82 L658.45 127.25 L658.67 126.68 L658.89 126.11 L659.11 125.54 L659.33 124.97 L659.55 124.4 L659.77 123.84 L659.99 123.28 L660.21 122.72 L660.43 122.17 L660.65 121.62 L660.87 121.07 L661.09 120.53 L661.31 119.99 L661.53 119.46 L661.75 118.93 L661.97 118.41 L662.19 117.89 L662.4 117.38 L662.62 116.88 L662.84 116.38 L663.06 115.9 L663.28 115.42 L663.5 114.94 L663.72 114.48 L663.94 114.02 L664.16 113.57 L664.38 113.13 L664.6 112.7 L664.82 112.28 L665.04 111.87 L665.26 111.47 L665.48 111.08 L665.7 110.7 L665.92 110.34 L666.14 109.98 L666.36 109.63 L666.58 109.3 L666.8 108.97 L667.02 108.66 L667.24 108.36 L667.46 108.07 L667.68 107.8 L667.9 107.53 L668.12 107.28 L668.34 107.05 L668.56 106.82 L668.78 106.61 L669 106.41 L669.22 106.23 L669.44 106.06 L669.66 105.9 L669.88 105.76 L670.1 105.63 L670.32 105.51 L670.54 105.41 L670.76 105.32 L670.98 105.24 L671.2 105.18 L671.42 105.14 L671.64 105.11 L671.86 105.09 L672.08 105.08 L672.3 105.09 L672.52 105.12 L672.74 105.16 L672.96 105.21 L673.18 105.28 L673.4 105.36" class="cb"/>
<path d="M49.4 453.4 L49.62 451.01 L49.84 448.64 L50.07 446.3 L50.29 443.98 L50.51 441.69 L50.73 439.42 L50.95 437.19 L51.17 434.99 L51.4 432.83 L51.62 430.71 L51.84 428.62 L52.06 426.58 L52.28 424.57 L52.5 422.6 L52.73 420.65 L52.95 418.74 L53.17 416.84 L53.39 414.97 L53.61 413.12 L53.83 411.28 L54.06 409.46 L54.28 407.64 L54.5 405.84 L54.72 404.07 L54.94 402.31 L55.16 400.59 L55.39 398.9 L55.61 397.25 L55.83 395.65 L56.05 394.1 L56.27 392.6 L56.49 391.16 L56.72 389.79 L56.94 388.48 L57.16 387.24 L57.38 386.06 L57.6 384.93 L57.82 383.85 L58.05 382.82 L58.27 381.83 L58.49 380.88 L58.71 379.96 L58.93 379.06 L59.15 378.19 L59.38 377.33 L59.6 376.49 L59.82 375.65 L60.04 374.82 L60.26 373.98 L60.48 373.15 L60.71 372.32 L60.93 371.5 L61.15 370.68 L61.37 369.87 L61.59 369.06 L61.81 368.27 L62.04 367.48 L62.26 366.71 L62.48 365.95 L62.7 365.21 L62.92 364.48 L63.14 363.78 L63.37 363.09 L63.59 362.42 L63.81 361.77 L64.03 361.14 L64.25 360.53 L64.47 359.94 L64.7 359.37 L64.92 358.81 L65.14 358.27 L65.36 357.75 L65.58 357.25 L65.8 356.76 L66.03 356.29 L66.25 355.83 L66.47 355.39 L66.69 354.96 L66.91 354.54 L67.13 354.14 L67.36 353.75 L67.58 353.38 L67.8 353.01 L68.02 352.64 L68.24 352.29 L68.46 351.94 L68.69 351.59 L68.91 351.25 L69.13 350.91 L69.35 350.57 L69.57 350.23 L69.79 349.88 L70.02 349.54 L70.24 349.19 L70.46 348.83 L70.68 348.47 L70.9 348.1 L71.13 347.72 L71.35 347.33 L71.57 346.92 L71.79 346.51 L72.01 346.08 L72.23 345.63 L72.46 345.17 L72.68 344.69 L72.9 344.18 L73.12 343.65 L73.34 343.1 L73.56 342.52 L73.79 341.92 L74.01 341.28 L74.23 340.61 L74.45 339.91 L74.67 339.18 L74.89 338.41 L75.12 337.6 L75.34 336.75 L75.56 335.87 L75.78 334.95 L76 334.01 L76.22 333.04 L76.45 332.06 L76.67 331.05 L76.89 330.02 L77.11 328.99 L77.33 327.94 L77.55 326.89 L77.78 325.83 L78 324.77 L78.22 323.71 L78.44 322.66 L78.66 321.62 L78.88 320.59 L79.11 319.57 L79.33 318.57 L79.55 317.59 L79.77 316.63 L79.99 315.69 L80.21 314.78 L80.44 313.9 L80.66 313.05 L80.88 312.23 L81.1 311.45 L81.32 310.71 L81.54 310.02 L81.77 309.36 L81.99 308.76 L82.21 308.19 L82.43 307.67 L82.65 307.19 L82.87 306.75 L83.1 306.34 L83.32 305.97 L83.54 305.63 L83.76 305.33 L83.98 305.06 L84.2 304.81 L84.43 304.6 L84.65 304.41 L84.87 304.24 L85.09 304.1 L85.31 303.98 L85.53 303.88 L85.76 303.79 L85.98 303.72 L86.2 303.67 L86.42 303.63 L86.64 303.6 L86.86 303.58 L87.09 303.58 L87.31 303.58 L87.53 303.59 L87.75 303.61 L87.97 303.64 L88.19 303.68 L88.42 303.73 L88.64 303.78 L88.86 303.85 L89.08 303.92 L89.3 304 L89.52 304.09 L89.75 304.19 L89.97 304.29 L90.19 304.41 L90.41 304.53 L90.63 304.66 L90.86 304.79 L91.08 304.93 L91.3 305.08 L91.52 305.24 L91.74 305.4 L91.96 305.57 L92.19 305.74 L92.41 305.92 L92.63 306.1 L92.85 306.28 L93.07 306.46 L93.29 306.63 L93.52 306.8 L93.74 306.97 L93.96 307.13 L94.18 307.28 L94.4 307.42 L94.62 307.54 L94.85 307.66 L95.07 307.76 L95.29 307.85 L95.51 307.92 L95.73 307.97 L95.95 308 L96.18 308.02 L96.4 308 L96.62 307.97 L96.84 307.91 L97.06 307.82 L97.28 307.71 L97.51 307.57 L97.73 307.41 L97.95 307.23 L98.17 307.03 L98.39 306.8 L98.61 306.56 L98.84 306.29 L99.06 306.01 L99.28 305.71 L99.5 305.38 L99.72 305.05 L99.94 304.69 L100.17 304.32 L100.39 303.93 L100.61 303.53 L100.83 303.12 L101.05 302.69 L101.27 302.25 L101.5 301.8 L101.72 301.33 L101.94 300.86 L102.16 300.37 L102.38 299.88 L102.6 299.38 L102.83 298.87 L103.05 298.35 L103.27 297.82 L103.49 297.29 L103.71 296.75 L103.93 296.21 L104.16 295.66 L104.38 295.11 L104.6 294.56 L104.82 294 L105.04 293.44 L105.26 292.88 L105.49 292.32 L105.71 291.76 L105.93 291.19 L106.15 290.63 L106.37 290.07 L106.59 289.51 L106.82 288.96 L107.04 288.41 L107.26 287.86 L107.48 287.32 L107.7 286.78 L107.92 286.24 L108.15 285.72 L108.37 285.2 L108.59 284.69 L108.81 284.18 L109.03 283.69 L109.25 283.21 L109.48 282.75 L109.7 282.31 L109.92 281.88 L110.14 281.47 L110.36 281.09 L110.58 280.73 L110.81 280.39 L111.03 280.09 L111.25 279.81 L111.47 279.57 L111.69 279.35 L111.92 279.18 L112.14 279.04 L112.36 278.93 L112.58 278.86 L112.8 278.82 L113.02 278.82 L113.25 278.84 L113.47 278.89 L113.69 278.98 L113.91 279.09 L114.13 279.23 L114.35 279.39 L114.58 279.58 L114.8 279.79 L115.02 280.02 L115.24 280.27 L115.46 280.54 L115.68 280.84 L115.91 281.15 L116.13 281.47 L116.35 281.82 L116.57 282.17 L116.79 282.54 L117.01 282.93 L117.24 283.32 L117.46 283.73 L117.68 284.14 L117.9 284.56 L118.12 284.99 L118.34 285.42 L118.57 285.86 L118.79 286.3 L119.01 286.75 L119.23 287.2 L119.45 287.64 L119.67 288.09 L119.9 288.53 L120.12 288.97 L120.34 289.41 L120.56 289.83 L120.78 290.26 L121 290.67 L121.23 291.07 L121.45 291.47 L121.67 291.85 L121.89 292.22 L122.11 292.57 L122.33 292.91 L122.56 293.23 L122.78 293.53 L123 293.82 L123.22 294.08 L123.44 294.33 L123.66 294.55 L123.89 294.74 L124.11 294.91 L124.33 295.06 L124.55 295.18 L124.77 295.27 L124.99 295.33 L125.22 295.35 L125.44 295.35 L125.66 295.31 L125.88 295.24 L126.1 295.14 L126.32 295 L126.55 294.84 L126.77 294.64 L126.99 294.42 L127.21 294.16 L127.43 293.89 L127.65 293.58 L127.88 293.26 L128.1 292.91 L128.32 292.54 L128.54 292.14 L128.76 291.73 L128.98 291.3 L129.21 290.85 L129.43 290.39 L129.65 289.91 L129.87 289.42 L130.09 288.91 L130.31 288.4 L130.54 287.87 L130.76 287.33 L130.98 286.78 L131.2 286.23 L131.42 285.67 L131.65 285.11 L131.87 284.54 L132.09 283.97 L132.31 283.39 L132.53 282.82 L132.75 282.24 L132.98 281.67 L133.2 281.1 L133.42 280.53 L133.64 279.97 L133.86 279.41 L134.08 278.86 L134.31 278.32 L134.53 277.78 L134.75 277.26 L134.97 276.74 L135.19 276.24 L135.41 275.75 L135.64 275.27 L135.86 274.81 L136.08 274.36 L136.3 273.93 L136.52 273.52 L136.74 273.13 L136.97 272.76 L137.19 272.4 L137.41 272.07 L137.63 271.77 L137.85 271.48 L138.07 271.22 L138.3 270.99 L138.52 270.79 L138.74 270.61 L138.96 270.46 L139.18 270.34 L139.4 270.25 L139.63 270.19 L139.85 270.16 L140.07 270.16 L140.29 270.19 L140.51 270.24 L140.73 270.32 L140.96 270.44 L141.18 270.57 L141.4 270.74 L141.62 270.94 L141.84 271.16 L142.06 271.41 L142.29 271.68 L142.51 271.98 L142.73 272.31 L142.95 272.66 L143.17 273.04 L143.39 273.43 L143.62 273.85 L143.84 274.28 L144.06 274.74 L144.28 275.2 L144.5 275.68 L144.72 276.18 L144.95 276.68 L145.17 277.19 L145.39 277.71 L145.61 278.24 L145.83 278.77 L146.05 279.31 L146.28 279.84 L146.5 280.38 L146.72 280.91 L146.94 281.45 L147.16 281.97 L147.38 282.5 L147.61 283.02 L147.83 283.53 L148.05 284.04 L148.27 284.53 L148.49 285.02 L148.71 285.49 L148.94 285.95 L149.16 286.4 L149.38 286.83 L149.6 287.24 L149.82 287.64 L150.04 288.02 L150.27 288.37 L150.49 288.71 L150.71 289.03 L150.93 289.33 L151.15 289.6 L151.37 289.85 L151.6 290.08 L151.82 290.28 L152.04 290.46 L152.26 290.61 L152.48 290.73 L152.71 290.83 L152.93 290.91 L153.15 290.95 L153.37 290.97 L153.59 290.97 L153.81 290.93 L154.04 290.87 L154.26 290.79 L154.48 290.67 L154.7 290.53 L154.92 290.37 L155.14 290.18 L155.37 289.97 L155.59 289.73 L155.81 289.47 L156.03 289.18 L156.25 288.87 L156.47 288.54 L156.7 288.2 L156.92 287.83 L157.14 287.44 L157.36 287.03 L157.58 286.61 L157.8 286.17 L158.03 285.72 L158.25 285.25 L158.47 284.77 L158.69 284.28 L158.91 283.78 L159.13 283.27 L159.36 282.76 L159.58 282.24 L159.8 281.71 L160.02 281.18 L160.24 280.64 L160.46 280.11 L160.69 279.58 L160.91 279.05 L161.13 278.52 L161.35 277.99 L161.57 277.48 L161.79 276.96 L162.02 276.46 L162.24 275.97 L162.46 275.49 L162.68 275.02 L162.9 274.56 L163.12 274.12 L163.35 273.69 L163.57 273.28 L163.79 272.89 L164.01 272.51 L164.23 272.16 L164.45 271.82 L164.68 271.51 L164.9 271.22 L165.12 270.95 L165.34 270.71 L165.56 270.48 L165.78 270.29 L166.01 270.12 L166.23 269.97 L166.45 269.85 L166.67 269.76 L166.89 269.69 L167.11 269.65 L167.34 269.64 L167.56 269.65 L167.78 269.69 L168 269.75 L168.22 269.85 L168.44 269.96 L168.67 270.11 L168.89 270.28 L169.11 270.47 L169.33 270.69 L169.55 270.94 L169.77 271.2 L170 271.49 L170.22 271.81 L170.44 272.14 L170.66 272.49 L170.88 272.87 L171.1 273.26 L171.33 273.67 L171.55 274.09 L171.77 274.54 L171.99 274.99 L172.21 275.46 L172.44 275.94 L172.66 276.43 L172.88 276.94 L173.1 277.45 L173.32 277.97 L173.54 278.49 L173.77 279.02 L173.99 279.55 L174.21 280.08 L174.43 280.62 L174.65 281.15 L174.87 281.68 L175.1 282.21 L175.32 282.73 L175.54 283.25 L175.76 283.76 L175.98 284.26 L176.2 284.75 L176.43 285.23 L176.65 285.69 L176.87 286.15 L177.09 286.59 L177.31 287.01 L177.53 287.42 L177.76 287.81 L177.98 288.18 L178.2 288.53 L178.42 288.86 L178.64 289.16 L178.86 289.45 L179.09 289.71 L179.31 289.95 L179.53 290.17 L179.75 290.36 L179.97 290.53 L180.19 290.67 L180.42 290.78 L180.64 290.87 L180.86 290.93 L181.08 290.96 L181.3 290.97 L181.52 290.95 L181.75 290.91 L181.97 290.84 L182.19 290.74 L182.41 290.61 L182.63 290.46 L182.85 290.29 L183.08 290.09 L183.3 289.86 L183.52 289.61 L183.74 289.34 L183.96 289.05 L184.18 288.73 L184.41 288.39 L184.63 288.04 L184.85 287.66 L185.07 287.26 L185.29 286.85 L185.51 286.42 L185.74 285.97 L185.96 285.51 L186.18 285.04 L186.4 284.56 L186.62 284.06 L186.84 283.56 L187.07 283.05 L187.29 282.53 L187.51 282 L187.73 281.47 L187.95 280.94 L188.17 280.41 L188.4 279.88 L188.62 279.34 L188.84 278.81 L189.06 278.29 L189.28 277.76 L189.5 277.25 L189.73 276.74 L189.95 276.24 L190.17 275.75 L190.39 275.28 L190.61 274.81 L190.83 274.36 L191.06 273.93 L191.28 273.51 L191.5 273.1 L191.72 272.72 L191.94 272.35 L192.16 272.01 L192.39 271.68 L192.61 271.38 L192.83 271.1 L193.05 270.84 L193.27 270.61 L193.5 270.4 L193.72 270.21 L193.94 270.05 L194.16 269.92 L194.38 269.81 L194.6 269.72 L194.83 269.67 L195.05 269.64 L195.27 269.64 L195.49 269.66 L195.71 269.71 L195.93 269.79 L196.16 269.89 L196.38 270.02 L196.6 270.18 L196.82 270.36 L197.04 270.57 L197.26 270.8 L197.49 271.05 L197.71 271.33 L197.93 271.63 L198.15 271.95 L198.37 272.29 L198.59 272.65 L198.82 273.04 L199.04 273.44 L199.26 273.85 L199.48 274.29 L199.7 274.73 L199.92 275.2 L200.15 275.67 L200.37 276.16 L200.59 276.66 L200.81 277.16 L201.03 277.68 L201.25 278.2 L201.48 278.72 L201.7 279.25 L201.92 279.78 L202.14 280.32 L202.36 280.85 L202.58 281.38 L202.81 281.91 L203.03 282.44 L203.25 282.96 L203.47 283.47 L203.69 283.98 L203.91 284.47 L204.14 284.96 L204.36 285.43 L204.58 285.9 L204.8 286.34 L205.02 286.78 L205.24 287.19 L205.47 287.59 L205.69 287.97 L205.91 288.33 L206.13 288.67 L206.35 288.99 L206.57 289.29 L206.8 289.57 L207.02 289.82 L207.24 290.05 L207.46 290.26 L207.68 290.44 L207.9 290.59 L208.13 290.72 L208.35 290.82 L208.57 290.9 L208.79 290.95 L209.01 290.97 L209.23 290.97 L209.46 290.94 L209.68 290.88 L209.9 290.8 L210.12 290.69 L210.34 290.55 L210.56 290.39 L210.79 290.2 L211.01 289.99 L211.23 289.76 L211.45 289.5 L211.67 289.22 L211.89 288.91 L212.12 288.58 L212.34 288.24 L212.56 287.87 L212.78 287.49 L213 287.08 L213.23 286.66 L213.45 286.22 L213.67 285.77 L213.89 285.31 L214.11 284.83 L214.33 284.34 L214.56 283.84 L214.78 283.33 L215 282.82 L215.22 282.3 L215.44 281.77 L215.66 281.24 L215.89 280.71 L216.11 280.17 L216.33 279.64 L216.55 279.11 L216.77 278.58 L216.99 278.06 L217.22 277.54 L217.44 277.02 L217.66 276.52 L217.88 276.03 L218.1 275.54 L218.32 275.07 L218.55 274.61 L218.77 274.17 L218.99 273.74 L219.21 273.33 L219.43 272.93 L219.65 272.56 L219.88 272.2 L220.1 271.86 L220.32 271.55 L220.54 271.25 L220.76 270.98 L220.98 270.73 L221.21 270.51 L221.43 270.31 L221.65 270.14 L221.87 269.99 L222.09 269.86 L222.31 269.77 L222.54 269.7 L222.76 269.65 L222.98 269.64 L223.2 269.65 L223.42 269.68 L223.64 269.74 L223.87 269.83 L224.09 269.95 L224.31 270.09 L224.53 270.26 L224.75 270.45 L224.97 270.67 L225.2 270.91 L225.42 271.17 L225.64 271.46 L225.86 271.77 L226.08 272.1 L226.3 272.45 L226.53 272.82 L226.75 273.21 L226.97 273.62 L227.19 274.04 L227.41 274.48 L227.63 274.94 L227.86 275.4 L228.08 275.88 L228.3 276.38 L228.52 276.88 L228.74 277.39 L228.96 277.9 L229.19 278.43 L229.41 278.95 L229.63 279.49 L229.85 280.02 L230.07 280.55 L230.29 281.09 L230.52 281.62 L230.74 282.15 L230.96 282.67 L231.18 283.19 L231.4 283.7 L231.62 284.2 L231.85 284.69 L232.07 285.17 L232.29 285.64 L232.51 286.1 L232.73 286.54 L232.95 286.96 L233.18 287.37 L233.4 287.76 L233.62 288.13 L233.84 288.49 L234.06 288.82 L234.29 289.13 L234.51 289.42 L234.73 289.68 L234.95 289.93 L235.17 290.15 L235.39 290.34 L235.62 290.51 L235.84 290.65 L236.06 290.77 L236.28 290.86 L236.5 290.92 L236.72 290.96 L236.95 290.97 L237.17 290.96 L237.39 290.92 L237.61 290.85 L237.83 290.75 L238.05 290.63 L238.28 290.48 L238.5 290.31 L238.72 290.11 L238.94 289.89 L239.16 289.65 L239.38 289.38 L239.61 289.08 L239.83 288.77 L240.05 288.43 L240.27 288.08 L240.49 287.7 L240.71 287.31 L240.94 286.9 L241.16 286.47 L241.38 286.03 L241.6 285.57 L241.82 285.1 L242.04 284.62 L242.27 284.12 L242.49 283.62 L242.71 283.11 L242.93 282.59 L243.15 282.07 L243.37 281.54 L243.6 281.01 L243.82 280.47 L244.04 279.94 L244.26 279.41 L244.48 278.87 L244.7 278.35 L244.93 277.83 L245.15 277.31 L245.37 276.8 L245.59 276.3 L245.81 275.81 L246.03 275.33 L246.26 274.87 L246.48 274.41 L246.7 273.98 L246.92 273.56 L247.14 273.15 L247.36 272.76 L247.59 272.4 L247.81 272.05 L248.03 271.72 L248.25 271.41 L248.47 271.13 L248.69 270.87 L248.92 270.63 L249.14 270.42 L249.36 270.23 L249.58 270.07 L249.8 269.93 L250.02 269.82 L250.25 269.73 L250.47 269.67 L250.69 269.64 L250.91 269.64 L251.13 269.66 L251.35 269.71 L251.58 269.78 L251.8 269.88 L252.02 270.01 L252.24 270.16 L252.46 270.34 L252.68 270.54 L252.91 270.77 L253.13 271.02 L253.35 271.3 L253.57 271.59 L253.79 271.91 L254.02 272.25 L254.24 272.61 L254.46 272.99 L254.68 273.39 L254.9 273.8 L255.12 274.23 L255.35 274.68 L255.57 275.14 L255.79 275.62 L256.01 276.1 L256.23 276.6 L256.45 277.1 L256.68 277.61 L256.9 278.13 L257.12 278.66 L257.34 279.19 L257.56 279.72 L257.78 280.25 L258.01 280.79 L258.23 281.32 L258.45 281.85 L258.67 282.38 L258.89 282.9 L259.11 283.41 L259.34 283.92 L259.56 284.42 L259.78 284.9 L260 285.38 L260.22 285.84 L260.44 286.29 L260.67 286.73 L260.89 287.14 L261.11 287.54 L261.33 287.93 L261.55 288.29 L261.77 288.64 L262 288.96 L262.22 289.26 L262.44 289.54 L262.66 289.79 L262.88 290.03 L263.1 290.23 L263.33 290.42 L263.55 290.57 L263.77 290.71 L263.99 290.81 L264.21 290.89 L264.43 290.94 L264.66 290.97 L264.88 290.97 L265.1 290.94 L265.32 290.89 L265.54 290.81 L265.76 290.7 L265.99 290.57 L266.21 290.41 L266.43 290.23 L266.65 290.02 L266.87 289.79 L267.09 289.53 L267.32 289.25 L267.54 288.95 L267.76 288.62 L267.98 288.28 L268.2 287.92 L268.42 287.53 L268.65 287.13 L268.87 286.71 L269.09 286.28 L269.31 285.83 L269.53 285.36 L269.75 284.89 L269.98 284.4 L270.2 283.9 L270.42 283.39 L270.64 282.88 L270.86 282.36 L271.08 281.83 L271.31 281.3 L271.53 280.77 L271.75 280.24 L271.97 279.7 L272.19 279.17 L272.41 278.64 L272.64 278.12 L272.86 277.6 L273.08 277.08 L273.3 276.58 L273.52 276.08 L273.74 275.6 L273.97 275.13 L274.19 274.67 L274.41 274.22 L274.63 273.79 L274.85 273.37 L275.08 272.98 L275.3 272.6 L275.52 272.24 L275.74 271.9 L275.96 271.58 L276.18 271.29 L276.41 271.01 L276.63 270.76 L276.85 270.53 L277.07 270.33 L277.29 270.16 L277.51 270 L277.74 269.88 L277.96 269.78 L278.18 269.7 L278.4 269.66 L278.62 269.64 L278.84 269.64 L279.07 269.68 L279.29 269.74 L279.51 269.82 L279.73 269.93 L279.95 270.07 L280.17 270.24 L280.4 270.43 L280.62 270.64 L280.84 270.88 L281.06 271.14 L281.28 271.42 L281.5 271.73 L281.73 272.06 L281.95 272.41 L282.17 272.78 L282.39 273.16 L282.61 273.57 L282.83 273.99 L283.06 274.43 L283.28 274.88 L283.5 275.35 L283.72 275.83 L283.94 276.32 L284.16 276.82 L284.39 277.33 L284.61 277.84 L284.83 278.36 L285.05 278.89 L285.27 279.42 L285.49 279.96 L285.72 280.49 L285.94 281.02 L286.16 281.55 L286.38 282.08 L286.6 282.61 L286.82 283.13 L287.05 283.64 L287.27 284.14 L287.49 284.63 L287.71 285.11 L287.93 285.58 L288.15 286.04 L288.38 286.48 L288.6 286.91 L288.82 287.32 L289.04 287.72 L289.26 288.09 L289.48 288.45 L289.71 288.78 L289.93 289.09 L290.15 289.39 L290.37 289.65 L290.59 289.9 L290.81 290.12 L291.04 290.32 L291.26 290.49 L291.48 290.64 L291.7 290.76 L291.92 290.85 L292.14 290.92 L292.37 290.96 L292.59 290.97 L292.81 290.96 L293.03 290.92 L293.25 290.86 L293.47 290.76 L293.7 290.65 L293.92 290.5 L294.14 290.33 L294.36 290.14 L294.58 289.92 L294.81 289.68 L295.03 289.41 L295.25 289.12 L295.47 288.81 L295.69 288.47 L295.91 288.12 L296.14 287.75 L296.36 287.36 L296.58 286.95 L296.8 286.52 L297.02 286.08 L297.24 285.62 L297.47 285.16 L297.69 284.67 L297.91 284.18 L298.13 283.68 L298.35 283.17 L298.57 282.65 L298.8 282.13 L299.02 281.6 L299.24 281.07 L299.46 280.53 L299.68 280 L299.9 279.47 L300.13 278.94 L300.35 278.41 L300.57 277.89 L300.79 277.37 L301.01 276.86 L301.23 276.36 L301.46 275.87 L301.68 275.39 L301.9 274.92 L302.12 274.47 L302.34 274.03 L302.56 273.6 L302.79 273.2 L303.01 272.81 L303.23 272.44 L303.45 272.09 L303.67 271.76 L303.89 271.45 L304.12 271.16 L304.34 270.9 L304.56 270.66 L304.78 270.44 L305 270.25 L305.22 270.09 L305.45 269.94 L305.67 269.83 L305.89 269.74 L306.11 269.68 L306.33 269.64 L306.55 269.64 L306.78 269.65 L307 269.7 L307.22 269.77 L307.44 269.87 L307.66 269.99 L307.88 270.14 L308.11 270.32 L308.33 270.52 L308.55 270.74 L308.77 270.99 L308.99 271.26 L309.21 271.56 L309.44 271.87 L309.66 272.21 L309.88 272.57 L310.1 272.94 L310.32 273.34 L310.54 273.75 L310.77 274.18 L310.99 274.63 L311.21 275.09 L311.43 275.56 L311.65 276.04 L311.87 276.54 L312.1 277.04 L312.32 277.55 L312.54 278.07 L312.76 278.6 L312.98 279.13 L313.2 279.66 L313.43 280.19 L313.65 280.73 L313.87 281.26 L314.09 281.79 L314.31 282.31 L314.53 282.84 L314.76 283.35 L314.98 283.86 L315.2 284.36" class="cb"/><path d="M49.4 453.4 L49.62 451.01 L49.84 448.64 L50.07 446.3 L50.29 443.98 L50.51 441.69 L50.73 439.42 L50.95 437.19 L51.17 434.99 L51.4 432.83 L51.62 430.71 L51.84 428.62 L52.06 426.58 L52.28 424.57 L52.5 422.6 L52.73 420.65 L52.95 418.74 L53.17 416.84 L53.39 414.97 L53.61 413.12 L53.83 411.28 L54.06 409.46 L54.28 407.64 L54.5 405.84 L54.72 404.07 L54.94 402.31 L55.16 400.59 L55.39 398.9 L55.61 397.25 L55.83 395.65 L56.05 394.1 L56.27 392.6 L56.49 391.16 L56.72 389.79 L56.94 388.48 L57.16 387.24 L57.38 386.06 L57.6 384.93 L57.82 383.85 L58.05 382.82 L58.27 381.83 L58.49 380.88 L58.71 379.96 L58.93 379.06 L59.15 378.19 L59.38 377.33 L59.6 376.49 L59.82 375.65 L60.04 374.82 L60.26 373.98 L60.48 373.15 L60.71 372.32 L60.93 371.5 L61.15 370.68 L61.37 369.87 L61.59 369.06 L61.81 368.27 L62.04 367.48 L62.26 366.71 L62.48 365.95 L62.7 365.21 L62.92 364.48 L63.14 363.78 L63.37 363.09 L63.59 362.42 L63.81 361.77 L64.03 361.14 L64.25 360.53 L64.47 359.94 L64.7 359.37 L64.92 358.81 L65.14 358.27 L65.36 357.75 L65.58 357.25 L65.8 356.76 L66.03 356.29 L66.25 355.83 L66.47 355.39 L66.69 354.96 L66.91 354.54 L67.13 354.14 L67.36 353.75 L67.58 353.38 L67.8 353.01 L68.02 352.64 L68.24 352.29 L68.46 351.94 L68.69 351.59 L68.91 351.25 L69.13 350.91 L69.35 350.57 L69.57 350.23 L69.79 349.88 L70.02 349.54 L70.24 349.19 L70.46 348.83 L70.68 348.47 L70.9 348.1 L71.13 347.72 L71.35 347.33 L71.57 346.92 L71.79 346.51 L72.01 346.08 L72.23 345.63 L72.46 345.17 L72.68 344.69 L72.9 344.18 L73.12 343.65 L73.34 343.1 L73.56 342.52 L73.79 341.92 L74.01 341.28 L74.23 340.61 L74.45 339.91 L74.67 339.18 L74.89 338.41 L75.12 337.6 L75.34 336.75 L75.56 335.87 L75.78 334.95 L76 334.01 L76.22 333.04 L76.45 332.06 L76.67 331.05 L76.89 330.02 L77.11 328.99 L77.33 327.94 L77.55 326.89 L77.78 325.83 L78 324.77 L78.22 323.71 L78.44 322.66 L78.66 321.62 L78.88 320.59 L79.11 319.57 L79.33 318.57 L79.55 317.59 L79.77 316.63 L79.99 315.69 L80.21 314.78 L80.44 313.9 L80.66 313.05 L80.88 312.23 L81.1 311.45 L81.32 310.71 L81.54 310.02 L81.77 309.36 L81.99 308.76 L82.21 308.19 L82.43 307.67 L82.65 307.19 L82.87 306.75 L83.1 306.34 L83.32 305.97 L83.54 305.63 L83.76 305.33 L83.98 305.06 L84.2 304.81 L84.43 304.6 L84.65 304.41 L84.87 304.24 L85.09 304.1 L85.31 303.98 L85.53 303.88 L85.76 303.79 L85.98 303.72 L86.2 303.67 L86.42 303.63 L86.64 303.6 L86.86 303.58 L87.09 303.58 L87.31 303.58 L87.53 303.59 L87.75 303.61 L87.97 303.64 L88.19 303.68 L88.42 303.73 L88.64 303.78 L88.86 303.85 L89.08 303.92 L89.3 304 L89.52 304.09 L89.75 304.19 L89.97 304.29 L90.19 304.41 L90.41 304.53 L90.63 304.66 L90.86 304.79 L91.08 304.93 L91.3 305.08 L91.52 305.24 L91.74 305.4 L91.96 305.57 L92.19 305.74 L92.41 305.92 L92.63 306.1 L92.85 306.28 L93.07 306.46 L93.29 306.63 L93.52 306.8 L93.74 306.97 L93.96 307.13 L94.18 307.28 L94.4 307.42 L94.62 307.54 L94.85 307.66 L95.07 307.76 L95.29 307.85 L95.51 307.92 L95.73 307.97 L95.95 308 L96.18 308.02 L96.4 308 L96.62 307.97 L96.84 307.91 L97.06 307.82 L97.28 307.71 L97.51 307.57 L97.73 307.41 L97.95 307.23 L98.17 307.03 L98.39 306.8 L98.61 306.56 L98.84 306.29 L99.06 306.01 L99.28 305.71 L99.5 305.38 L99.72 305.05 L99.94 304.69 L100.17 304.32 L100.39 303.93 L100.61 303.53 L100.83 303.12 L101.05 302.69 L101.27 302.25 L101.5 301.8 L101.72 301.33 L101.94 300.86 L102.16 300.37 L102.38 299.88 L102.6 299.38 L102.83 298.87 L103.05 298.35 L103.27 297.82 L103.49 297.29 L103.71 296.75 L103.93 296.21 L104.16 295.66 L104.38 295.11 L104.6 294.56 L104.82 294 L105.04 293.44 L105.26 292.88 L105.49 292.32 L105.71 291.76 L105.93 291.19 L106.15 290.63 L106.37 290.07 L106.59 289.51 L106.82 288.96 L107.04 288.41 L107.26 287.86 L107.48 287.32 L107.7 286.78 L107.92 286.24 L108.15 285.72 L108.37 285.2 L108.59 284.69 L108.81 284.18 L109.03 283.69 L109.25 283.21 L109.48 282.75 L109.7 282.31 L109.92 281.88 L110.14 281.47 L110.36 281.09 L110.58 280.73 L110.81 280.39 L111.03 280.09 L111.25 279.81 L111.47 279.57 L111.69 279.35 L111.92 279.18 L112.14 279.04 L112.36 278.93 L112.58 278.86 L112.8 278.82 L113.02 278.82 L113.25 278.84 L113.47 278.89 L113.69 278.98 L113.91 279.09 L114.13 279.23 L114.35 279.39 L114.58 279.58 L114.8 279.79 L115.02 280.02 L115.24 280.27 L115.46 280.54 L115.68 280.84 L115.91 281.15 L116.13 281.47 L116.35 281.82 L116.57 282.17 L116.79 282.54 L117.01 282.93 L117.24 283.32 L117.46 283.73 L117.68 284.14 L117.9 284.56 L118.12 284.99 L118.34 285.42 L118.57 285.86 L118.79 286.3 L119.01 286.75 L119.23 287.2 L119.45 287.64 L119.67 288.09 L119.9 288.53 L120.12 288.97 L120.34 289.41 L120.56 289.83 L120.78 290.26 L121 290.67 L121.23 291.07 L121.45 291.47 L121.67 291.85 L121.89 292.22 L122.11 292.57 L122.33 292.91 L122.56 293.23 L122.78 293.53 L123 293.82 L123.22 294.08 L123.44 294.33 L123.66 294.55 L123.89 294.74 L124.11 294.91 L124.33 295.06 L124.55 295.18 L124.77 295.27 L124.99 295.33 L125.22 295.35 L125.44 295.35 L125.66 295.31 L125.88 295.24 L126.1 295.14 L126.32 295 L126.55 294.84 L126.77 294.64 L126.99 294.42 L127.21 294.16 L127.43 293.89 L127.65 293.58 L127.88 293.26 L128.1 292.91 L128.32 292.54 L128.54 292.14 L128.76 291.73 L128.98 291.3 L129.21 290.85 L129.43 290.39 L129.65 289.91 L129.87 289.42 L130.09 288.91 L130.31 288.4 L130.54 287.87 L130.76 287.33 L130.98 286.78 L131.2 286.23 L131.42 285.67 L131.65 285.11 L131.87 284.54 L132.09 283.97 L132.31 283.39 L132.53 282.82 L132.75 282.24 L132.98 281.67 L133.2 281.1 L133.42 280.53 L133.64 279.97 L133.86 279.41 L134.08 278.86 L134.31 278.32 L134.53 277.78 L134.75 277.26 L134.97 276.74 L135.19 276.24 L135.41 275.75 L135.64 275.27 L135.86 274.81 L136.08 274.36 L136.3 273.93 L136.52 273.52 L136.74 273.13 L136.97 272.76 L137.19 272.4 L137.41 272.07 L137.63 271.77 L137.85 271.48 L138.07 271.22 L138.3 270.99 L138.52 270.79 L138.74 270.61 L138.96 270.46 L139.18 270.34 L139.4 270.25 L139.63 270.19 L139.85 270.16 L140.07 270.16 L140.29 270.19 L140.51 270.24 L140.73 270.32 L140.96 270.44 L141.18 270.57 L141.4 270.74 L141.62 270.94 L141.84 271.16 L142.06 271.41 L142.29 271.68 L142.51 271.98 L142.73 272.31 L142.95 272.66 L143.17 273.04 L143.39 273.43 L143.62 273.85 L143.84 274.28 L144.06 274.74 L144.28 275.2 L144.5 275.68 L144.72 276.18 L144.95 276.68 L145.17 277.19 L145.39 277.71 L145.61 278.24 L145.83 278.77 L146.05 279.31 L146.28 279.84 L146.5 280.38 L146.72 280.91 L146.94 281.45 L147.16 281.97 L147.38 282.5 L147.61 283.02 L147.83 283.53 L148.05 284.04 L148.27 284.53 L148.49 285.02 L148.71 285.49 L148.94 285.95 L149.16 286.4 L149.38 286.83 L149.6 287.24 L149.82 287.64 L150.04 288.02 L150.27 288.37 L150.49 288.71 L150.71 289.03 L150.93 289.33 L151.15 289.6 L151.37 289.85 L151.6 290.08 L151.82 290.28 L152.04 290.46 L152.26 290.61 L152.48 290.73 L152.71 290.83 L152.93 290.91 L153.15 290.95 L153.37 290.97 L153.59 290.97 L153.81 290.93 L154.04 290.87 L154.26 290.79 L154.48 290.67 L154.7 290.53 L154.92 290.37 L155.14 290.18 L155.37 289.97 L155.59 289.73 L155.81 289.47 L156.03 289.18 L156.25 288.87 L156.47 288.54 L156.7 288.2 L156.92 287.83 L157.14 287.44 L157.36 287.03 L157.58 286.61 L157.8 286.17 L158.03 285.72 L158.25 285.25 L158.47 284.77 L158.69 284.28 L158.91 283.78 L159.13 283.27 L159.36 282.76 L159.58 282.24 L159.8 281.71 L160.02 281.18 L160.24 280.64 L160.46 280.11 L160.69 279.58 L160.91 279.05 L161.13 278.52 L161.35 277.99 L161.57 277.48 L161.79 276.96 L162.02 276.46 L162.24 275.97 L162.46 275.49 L162.68 275.02 L162.9 274.56 L163.12 274.12 L163.35 273.69 L163.57 273.28 L163.79 272.89 L164.01 272.51 L164.23 272.16 L164.45 271.82 L164.68 271.51 L164.9 271.22 L165.12 270.95 L165.34 270.71 L165.56 270.48 L165.78 270.29 L166.01 270.12 L166.23 269.97 L166.45 269.85 L166.67 269.76 L166.89 269.69 L167.11 269.65 L167.34 269.64 L167.56 269.65 L167.78 269.69 L168 269.75 L168.22 269.85 L168.44 269.96 L168.67 270.11 L168.89 270.28 L169.11 270.47 L169.33 270.69 L169.55 270.94 L169.77 271.2 L170 271.49 L170.22 271.81 L170.44 272.14 L170.66 272.49 L170.88 272.87 L171.1 273.26 L171.33 273.67 L171.55 274.09 L171.77 274.54 L171.99 274.99 L172.21 275.46 L172.44 275.94 L172.66 276.43 L172.88 276.94 L173.1 277.45 L173.32 277.97 L173.54 278.49 L173.77 279.02 L173.99 279.55 L174.21 280.08 L174.43 280.62 L174.65 281.15 L174.87 281.68 L175.1 282.21 L175.32 282.73 L175.54 283.25 L175.76 283.76 L175.98 284.26 L176.2 284.75 L176.43 285.23 L176.65 285.69 L176.87 286.15 L177.09 286.59 L177.31 287.01 L177.53 287.42 L177.76 287.81 L177.98 288.18 L178.2 288.53 L178.42 288.86 L178.64 289.16 L178.86 289.45 L179.09 289.71 L179.31 289.95 L179.53 290.17 L179.75 290.36 L179.97 290.53 L180.19 290.67 L180.42 290.78 L180.64 290.87 L180.86 290.93 L181.08 290.96 L181.3 290.97 L181.52 290.95 L181.75 290.91 L181.97 290.84 L182.19 290.74 L182.41 290.61 L182.63 290.46 L182.85 290.29 L183.08 290.09 L183.3 289.86 L183.52 289.61 L183.74 289.34 L183.96 289.05 L184.18 288.73 L184.41 288.39 L184.63 288.04 L184.85 287.66 L185.07 287.26 L185.29 286.85 L185.51 286.42 L185.74 285.97 L185.96 285.51 L186.18 285.04 L186.4 284.56 L186.62 284.06 L186.84 283.56 L187.07 283.05 L187.29 282.53 L187.51 282 L187.73 281.47 L187.95 280.94 L188.17 280.41 L188.4 279.88 L188.62 279.34 L188.84 278.81 L189.06 278.29 L189.28 277.76 L189.5 277.25 L189.73 276.74 L189.95 276.24 L190.17 275.75 L190.39 275.28 L190.61 274.81 L190.83 274.36 L191.06 273.93 L191.28 273.51 L191.5 273.1 L191.72 272.72 L191.94 272.35 L192.16 272.01 L192.39 271.68 L192.61 271.38 L192.83 271.1 L193.05 270.84 L193.27 270.61 L193.5 270.4 L193.72 270.21 L193.94 270.05 L194.16 269.92 L194.38 269.81 L194.6 269.72 L194.83 269.67 L195.05 269.64 L195.27 269.64 L195.49 269.66 L195.71 269.71 L195.93 269.79 L196.16 269.89 L196.38 270.02 L196.6 270.18 L196.82 270.36 L197.04 270.57 L197.26 270.8 L197.49 271.05 L197.71 271.33 L197.93 271.63 L198.15 271.95 L198.37 272.29 L198.59 272.65 L198.82 273.04 L199.04 273.44 L199.26 273.85 L199.48 274.29 L199.7 274.73 L199.92 275.2 L200.15 275.67 L200.37 276.16 L200.59 276.66 L200.81 277.16 L201.03 277.68 L201.25 278.2 L201.48 278.72 L201.7 279.25 L201.92 279.78 L202.14 280.32 L202.36 280.85 L202.58 281.38 L202.81 281.91 L203.03 282.44 L203.25 282.96 L203.47 283.47 L203.69 283.98 L203.91 284.47 L204.14 284.96 L204.36 285.43 L204.58 285.9 L204.8 286.34 L205.02 286.78 L205.24 287.19 L205.47 287.59 L205.69 287.97 L205.91 288.33 L206.13 288.67 L206.35 288.99 L206.57 289.29 L206.8 289.57 L207.02 289.82 L207.24 290.05 L207.46 290.26 L207.68 290.44 L207.9 290.59 L208.13 290.72 L208.35 290.82 L208.57 290.9 L208.79 290.95 L209.01 290.97 L209.23 290.97 L209.46 290.94 L209.68 290.88 L209.9 290.8 L210.12 290.69 L210.34 290.55 L210.56 290.39 L210.79 290.2 L211.01 289.99 L211.23 289.76 L211.45 289.5 L211.67 289.22 L211.89 288.91 L212.12 288.58 L212.34 288.24 L212.56 287.87 L212.78 287.49 L213 287.08 L213.23 286.66 L213.45 286.22 L213.67 285.77 L213.89 285.31 L214.11 284.83 L214.33 284.34 L214.56 283.84 L214.78 283.33 L215 282.82 L215.22 282.3 L215.44 281.77 L215.66 281.24 L215.89 280.71 L216.11 280.17 L216.33 279.64 L216.55 279.11 L216.77 278.58 L216.99 278.06 L217.22 277.54 L217.44 277.02 L217.66 276.52 L217.88 276.03 L218.1 275.54 L218.32 275.07 L218.55 274.61 L218.77 274.17 L218.99 273.74 L219.21 273.33 L219.43 272.93 L219.65 272.56 L219.88 272.2 L220.1 271.86 L220.32 271.55 L220.54 271.25 L220.76 270.98 L220.98 270.73 L221.21 270.51 L221.43 270.31 L221.65 270.14 L221.87 269.99 L222.09 269.86 L222.31 269.77 L222.54 269.7 L222.76 269.65 L222.98 269.64 L223.2 269.65 L223.42 269.68 L223.64 269.74 L223.87 269.83 L224.09 269.95 L224.31 270.09 L224.53 270.26 L224.75 270.45 L224.97 270.67 L225.2 270.91 L225.42 271.17 L225.64 271.46 L225.86 271.77 L226.08 272.1 L226.3 272.45 L226.53 272.82 L226.75 273.21 L226.97 273.62 L227.19 274.04 L227.41 274.48 L227.63 274.94 L227.86 275.4 L228.08 275.88 L228.3 276.38 L228.52 276.88 L228.74 277.39 L228.96 277.9 L229.19 278.43 L229.41 278.95 L229.63 279.49 L229.85 280.02 L230.07 280.55 L230.29 281.09 L230.52 281.62 L230.74 282.15 L230.96 282.67 L231.18 283.19 L231.4 283.7 L231.62 284.2 L231.85 284.69 L232.07 285.17 L232.29 285.64 L232.51 286.1 L232.73 286.54 L232.95 286.96 L233.18 287.37 L233.4 287.76 L233.62 288.13 L233.84 288.49 L234.06 288.82 L234.29 289.13 L234.51 289.42 L234.73 289.68 L234.95 289.93 L235.17 290.15 L235.39 290.34 L235.62 290.51 L235.84 290.65 L236.06 290.77 L236.28 290.86 L236.5 290.92 L236.72 290.96 L236.95 290.97 L237.17 290.96 L237.39 290.92 L237.61 290.85 L237.83 290.75 L238.05 290.63 L238.28 290.48 L238.5 290.31 L238.72 290.11 L238.94 289.89 L239.16 289.65 L239.38 289.38 L239.61 289.08 L239.83 288.77 L240.05 288.43 L240.27 288.08 L240.49 287.7 L240.71 287.31 L240.94 286.9 L241.16 286.47 L241.38 286.03 L241.6 285.57 L241.82 285.1 L242.04 284.62 L242.27 284.12 L242.49 283.62 L242.71 283.11 L242.93 282.59 L243.15 282.07 L243.37 281.54 L243.6 281.01 L243.82 280.47 L244.04 279.94 L244.26 279.41 L244.48 278.87 L244.7 278.35 L244.93 277.83 L245.15 277.31 L245.37 276.8 L245.59 276.3 L245.81 275.81 L246.03 275.33 L246.26 274.87 L246.48 274.41 L246.7 273.98 L246.92 273.56 L247.14 273.15 L247.36 272.76 L247.59 272.4 L247.81 272.05 L248.03 271.72 L248.25 271.41 L248.47 271.13 L248.69 270.87 L248.92 270.63 L249.14 270.42 L249.36 270.23 L249.58 270.07 L249.8 269.93 L250.02 269.82 L250.25 269.73 L250.47 269.67 L250.69 269.64 L250.91 269.64 L251.13 269.66 L251.35 269.71 L251.58 269.78 L251.8 269.88 L252.02 270.01 L252.24 270.16 L252.46 270.34 L252.68 270.54 L252.91 270.77 L253.13 271.02 L253.35 271.3 L253.57 271.59 L253.79 271.91 L254.02 272.25 L254.24 272.61 L254.46 272.99 L254.68 273.39 L254.9 273.8 L255.12 274.23 L255.35 274.68 L255.57 275.14 L255.79 275.62 L256.01 276.1 L256.23 276.6 L256.45 277.1 L256.68 277.61 L256.9 278.13 L257.12 278.66 L257.34 279.19 L257.56 279.72 L257.78 280.25 L258.01 280.79 L258.23 281.32 L258.45 281.85 L258.67 282.38 L258.89 282.9 L259.11 283.41 L259.34 283.92 L259.56 284.42 L259.78 284.9 L260 285.38 L260.22 285.84 L260.44 286.29 L260.67 286.73 L260.89 287.14 L261.11 287.54 L261.33 287.93 L261.55 288.29 L261.77 288.64 L262 288.96 L262.22 289.26 L262.44 289.54 L262.66 289.79 L262.88 290.03 L263.1 290.23 L263.33 290.42 L263.55 290.57 L263.77 290.71 L263.99 290.81 L264.21 290.89 L264.43 290.94 L264.66 290.97 L264.88 290.97 L265.1 290.94 L265.32 290.89 L265.54 290.81 L265.76 290.7 L265.99 290.57 L266.21 290.41 L266.43 290.23 L266.65 290.02 L266.87 289.79 L267.09 289.53 L267.32 289.25 L267.54 288.95 L267.76 288.62 L267.98 288.28 L268.2 287.92 L268.42 287.53 L268.65 287.13 L268.87 286.71 L269.09 286.28 L269.31 285.83 L269.53 285.36 L269.75 284.89 L269.98 284.4 L270.2 283.9 L270.42 283.39 L270.64 282.88 L270.86 282.36 L271.08 281.83 L271.31 281.3 L271.53 280.77 L271.75 280.24 L271.97 279.7 L272.19 279.17 L272.41 278.64 L272.64 278.12 L272.86 277.6 L273.08 277.08 L273.3 276.58 L273.52 276.08 L273.74 275.6 L273.97 275.13 L274.19 274.67 L274.41 274.22 L274.63 273.79 L274.85 273.37 L275.08 272.98 L275.3 272.6 L275.52 272.24 L275.74 271.9 L275.96 271.58 L276.18 271.29 L276.41 271.01 L276.63 270.76 L276.85 270.53 L277.07 270.33 L277.29 270.16 L277.51 270 L277.74 269.88 L277.96 269.78 L278.18 269.7 L278.4 269.66 L278.62 269.64 L278.84 269.64 L279.07 269.68 L279.29 269.74 L279.51 269.82 L279.73 269.93 L279.95 270.07 L280.17 270.24 L280.4 270.43 L280.62 270.64 L280.84 270.88 L281.06 271.14 L281.28 271.42 L281.5 271.73 L281.73 272.06 L281.95 272.41 L282.17 272.78 L282.39 273.16 L282.61 273.57 L282.83 273.99 L283.06 274.43 L283.28 274.88 L283.5 275.35 L283.72 275.83 L283.94 276.32 L284.16 276.82 L284.39 277.33 L284.61 277.84 L284.83 278.36 L285.05 278.89 L285.27 279.42 L285.49 279.96 L285.72 280.49 L285.94 281.02 L286.16 281.55 L286.38 282.08 L286.6 282.61 L286.82 283.13 L287.05 283.64 L287.27 284.14 L287.49 284.63 L287.71 285.11 L287.93 285.58 L288.15 286.04 L288.38 286.48 L288.6 286.91 L288.82 287.32 L289.04 287.72 L289.26 288.09 L289.48 288.45 L289.71 288.78 L289.93 289.09 L290.15 289.39 L290.37 289.65 L290.59 289.9 L290.81 290.12 L291.04 290.32 L291.26 290.49 L291.48 290.64 L291.7 290.76 L291.92 290.85 L292.14 290.92 L292.37 290.96 L292.59 290.97 L292.81 290.96 L293.03 290.92 L293.25 290.86 L293.47 290.76 L293.7 290.65 L293.92 290.5 L294.14 290.33 L294.36 290.14 L294.58 289.92 L294.81 289.68 L295.03 289.41 L295.25 289.12 L295.47 288.81 L295.69 288.47 L295.91 288.12 L296.14 287.75 L296.36 287.36 L296.58 286.95 L296.8 286.52 L297.02 286.08 L297.24 285.62 L297.47 285.16 L297.69 284.67 L297.91 284.18 L298.13 283.68 L298.35 283.17 L298.57 282.65 L298.8 282.13 L299.02 281.6 L299.24 281.07 L299.46 280.53 L299.68 280 L299.9 279.47 L300.13 278.94 L300.35 278.41 L300.57 277.89 L300.79 277.37 L301.01 276.86 L301.23 276.36 L301.46 275.87 L301.68 275.39 L301.9 274.92 L302.12 274.47 L302.34 274.03 L302.56 273.6 L302.79 273.2 L303.01 272.81 L303.23 272.44 L303.45 272.09 L303.67 271.76 L303.89 271.45 L304.12 271.16 L304.34 270.9 L304.56 270.66 L304.78 270.44 L305 270.25 L305.22 270.09 L305.45 269.94 L305.67 269.83 L305.89 269.74 L306.11 269.68 L306.33 269.64 L306.55 269.64 L306.78 269.65 L307 269.7 L307.22 269.77 L307.44 269.87 L307.66 269.99 L307.88 270.14 L308.11 270.32 L308.33 270.52 L308.55 270.74 L308.77 270.99 L308.99 271.26 L309.21 271.56 L309.44 271.87 L309.66 272.21 L309.88 272.57 L310.1 272.94 L310.32 273.34 L310.54 273.75 L310.77 274.18 L310.99 274.63 L311.21 275.09 L311.43 275.56 L311.65 276.04 L311.87 276.54 L312.1 277.04 L312.32 277.55 L312.54 278.07 L312.76 278.6 L312.98 279.13 L313.2 279.66 L313.43 280.19 L313.65 280.73 L313.87 281.26 L314.09 281.79 L314.31 282.31 L314.53 282.84 L314.76 283.35 L314.98 283.86 L315.2 284.36" class="cr"/>
<path d="M407.5 283.6 L407.7 434.7 L408.6 434 L409.5 298.5 L411.74 282.55 L411.95 282.03 L412.17 281.52 L412.39 281.04 L412.61 280.57 L412.83 280.12 L413.04 279.7 L413.26 279.31 L413.48 278.95 L413.7 278.62 L413.92 278.33 L414.14 278.08 L414.35 277.86 L414.57 277.69 L414.79 277.55 L415.01 277.44 L415.23 277.37 L415.45 277.32 L415.66 277.3 L415.88 277.31 L416.1 277.35 L416.32 277.4 L416.54 277.48 L416.75 277.58 L416.97 277.7 L417.19 277.83 L417.41 277.98 L417.63 278.14 L417.85 278.32 L418.06 278.5 L418.28 278.69 L418.5 278.89 L418.72 279.1 L418.94 279.31 L419.16 279.52 L419.37 279.73 L419.59 279.94 L419.81 280.15 L420.03 280.35 L420.25 280.55 L420.46 280.75 L420.68 280.94 L420.9 281.13 L421.12 281.31 L421.34 281.48 L421.56 281.65 L421.77 281.81 L421.99 281.97 L422.21 282.12 L422.43 282.26 L422.65 282.39 L422.87 282.52 L423.08 282.63 L423.3 282.74 L423.52 282.84 L423.74 282.93 L423.96 283.01 L424.17 283.08 L424.39 283.14 L424.61 283.19 L424.83 283.23 L425.05 283.26 L425.27 283.28 L425.48 283.28 L425.7 283.27 L425.92 283.26 L426.14 283.23 L426.36 283.2 L426.58 283.16 L426.79 283.11 L427.01 283.06 L427.23 283 L427.45 282.93 L427.67 282.86 L427.88 282.78 L428.1 282.7 L428.32 282.62 L428.54 282.53 L428.76 282.45 L428.98 282.36 L429.19 282.27 L429.41 282.18 L429.63 282.09 L429.85 282 L430.07 281.92 L430.29 281.83 L430.5 281.75 L430.72 281.68 L430.94 281.6 L431.16 281.54 L431.38 281.47 L431.59 281.42 L431.81 281.37 L432.03 281.32 L432.25 281.29 L432.47 281.25 L432.69 281.23 L432.9 281.2 L433.12 281.19 L433.34 281.17 L433.56 281.15 L433.78 281.14 L434 281.13 L434.21 281.12 L434.43 281.11 L434.65 281.1 L434.87 281.08 L435.09 281.07 L435.3 281.05 L435.52 281.03 L435.74 281 L435.96 280.97 L436.18 280.94 L436.4 280.9 L436.61 280.85 L436.83 280.8 L437.05 280.74 L437.27 280.67 L437.49 280.59 L437.71 280.5 L437.92 280.41 L438.14 280.3 L438.36 280.18 L438.58 280.05 L438.8 279.92 L439.01 279.77 L439.23 279.62 L439.45 279.46 L439.67 279.3 L439.89 279.12 L440.11 278.95 L440.32 278.76 L440.54 278.58 L440.76 278.38 L440.98 278.19 L441.2 277.99 L441.42 277.79 L441.63 277.59 L441.85 277.38 L442.07 277.18 L442.29 276.97 L442.51 276.76 L442.72 276.56 L442.94 276.36 L443.16 276.15 L443.38 275.95 L443.6 275.76 L443.82 275.56 L444.03 275.37 L444.25 275.19 L444.47 275 L444.69 274.83 L444.91 274.66 L445.13 274.49 L445.34 274.34 L445.56 274.19 L445.78 274.05 L446 273.91 L446.22 273.79 L446.43 273.68 L446.65 273.57 L446.87 273.48 L447.09 273.4 L447.31 273.32 L447.53 273.27 L447.74 273.22 L447.96 273.19 L448.18 273.17 L448.4 273.16 L448.62 273.17 L448.84 273.19 L449.05 273.23 L449.27 273.29 L449.49 273.36 L449.71 273.45 L449.93 273.55 L450.14 273.66 L450.36 273.78 L450.58 273.92 L450.8 274.07 L451.02 274.22 L451.24 274.39 L451.45 274.57 L451.67 274.75 L451.89 274.95 L452.11 275.14 L452.33 275.35 L452.55 275.56 L452.76 275.77 L452.98 275.99 L453.2 276.22 L453.42 276.44 L453.64 276.67 L453.85 276.9 L454.07 277.12 L454.29 277.35 L454.51 277.58 L454.73 277.81 L454.95 278.03 L455.16 278.25 L455.38 278.47 L455.6 278.68 L455.82 278.89 L456.04 279.09 L456.26 279.29 L456.47 279.49 L456.69 279.68 L456.91 279.86 L457.13 280.04 L457.35 280.21 L457.56 280.38 L457.78 280.54 L458 280.69 L458.22 280.84 L458.44 280.98 L458.66 281.11 L458.87 281.23 L459.09 281.35 L459.31 281.46 L459.53 281.56 L459.75 281.65 L459.97 281.73 L460.18 281.81 L460.4 281.87 L460.62 281.93 L460.84 281.97 L461.06 282.01 L461.27 282.04 L461.49 282.05 L461.71 282.06 L461.93 282.05 L462.15 282.03 L462.37 282 L462.58 281.97 L462.8 281.91 L463.02 281.85 L463.24 281.78 L463.46 281.7 L463.68 281.61 L463.89 281.5 L464.11 281.39 L464.33 281.27 L464.55 281.14 L464.77 281 L464.98 280.85 L465.2 280.7 L465.42 280.54 L465.64 280.36 L465.86 280.19 L466.08 280 L466.29 279.81 L466.51 279.61 L466.73 279.41 L466.95 279.19 L467.17 278.98 L467.39 278.76 L467.6 278.53 L467.82 278.3 L468.04 278.06 L468.26 277.82 L468.48 277.57 L468.69 277.32 L468.91 277.07 L469.13 276.82 L469.35 276.56 L469.57 276.29 L469.79 276.03 L470 275.76 L470.22 275.5 L470.44 275.23 L470.66 274.96 L470.88 274.7 L471.1 274.43 L471.31 274.17 L471.53 273.91 L471.75 273.65 L471.97 273.39 L472.19 273.14 L472.4 272.9 L472.62 272.65 L472.84 272.42 L473.06 272.19 L473.28 271.97 L473.5 271.76 L473.71 271.55 L473.93 271.35 L474.15 271.17 L474.37 270.99 L474.59 270.82 L474.81 270.67 L475.02 270.52 L475.24 270.39 L475.46 270.27 L475.68 270.16 L475.9 270.07 L476.11 269.99 L476.33 269.93 L476.55 269.89 L476.77 269.86 L476.99 269.84 L477.21 269.85 L477.42 269.87 L477.64 269.9 L477.86 269.96 L478.08 270.02 L478.3 270.11 L478.52 270.21 L478.73 270.32 L478.95 270.44 L479.17 270.58 L479.39 270.73 L479.61 270.9 L479.82 271.07 L480.04 271.26 L480.26 271.46 L480.48 271.67 L480.7 271.89 L480.92 272.12 L481.13 272.36 L481.35 272.61 L481.57 272.86 L481.79 273.13 L482.01 273.4 L482.23 273.67 L482.44 273.96 L482.66 274.24 L482.88 274.53 L483.1 274.83 L483.32 275.13 L483.53 275.43 L483.75 275.73 L483.97 276.03 L484.19 276.33 L484.41 276.63 L484.63 276.93 L484.84 277.23 L485.06 277.52 L485.28 277.81 L485.5 278.1 L485.72 278.38 L485.94 278.65 L486.15 278.92 L486.37 279.18 L486.59 279.43 L486.81 279.68 L487.03 279.91 L487.24 280.14 L487.46 280.36 L487.68 280.56 L487.9 280.76 L488.12 280.94 L488.34 281.11 L488.55 281.27 L488.77 281.41 L488.99 281.55 L489.21 281.67 L489.43 281.77 L489.65 281.86 L489.86 281.94 L490.08 282 L490.3 282.05 L490.52 282.08 L490.74 282.1 L490.95 282.1 L491.17 282.09 L491.39 282.07 L491.61 282.03 L491.83 281.97 L492.05 281.9 L492.26 281.82 L492.48 281.72 L492.7 281.6 L492.92 281.48 L493.14 281.34 L493.36 281.19 L493.57 281.02 L493.79 280.84 L494.01 280.66 L494.23 280.46 L494.45 280.24 L494.66 280.02 L494.88 279.79 L495.1 279.55 L495.32 279.3 L495.54 279.04 L495.76 278.78 L495.97 278.51 L496.19 278.23 L496.41 277.95 L496.63 277.66 L496.85 277.37 L497.07 277.07 L497.28 276.77 L497.5 276.47 L497.72 276.17 L497.94 275.87 L498.16 275.57 L498.37 275.27 L498.59 274.97 L498.81 274.68 L499.03 274.38 L499.25 274.09 L499.47 273.81 L499.68 273.53 L499.9 273.26 L500.12 272.99 L500.34 272.73 L500.56 272.48 L500.78 272.23 L500.99 272 L501.21 271.77 L501.43 271.56 L501.65 271.36 L501.87 271.16 L502.08 270.98 L502.3 270.81 L502.52 270.66 L502.74 270.51 L502.96 270.38 L503.18 270.27 L503.39 270.16 L503.61 270.07 L503.83 270 L504.05 269.94 L504.27 269.89 L504.49 269.86 L504.7 269.85 L504.92 269.85 L505.14 269.86 L505.36 269.89 L505.58 269.93 L505.79 269.99 L506.01 270.06 L506.23 270.15 L506.45 270.25 L506.67 270.36 L506.89 270.49 L507.1 270.63 L507.32 270.79 L507.54 270.95 L507.76 271.13 L507.98 271.32 L508.2 271.53 L508.41 271.74 L508.63 271.96 L508.85 272.19 L509.07 272.44 L509.29 272.69 L509.5 272.94 L509.72 273.21 L509.94 273.48 L510.16 273.76 L510.38 274.05 L510.6 274.33 L510.81 274.63 L511.03 274.92 L511.25 275.22 L511.47 275.52 L511.69 275.82 L511.91 276.12 L512.12 276.42 L512.34 276.73 L512.56 277.02 L512.78 277.32 L513 277.61 L513.21 277.9 L513.43 278.18 L513.65 278.46 L513.87 278.74 L514.09 279 L514.31 279.26 L514.52 279.51 L514.74 279.75 L514.96 279.99 L515.18 280.21 L515.4 280.42 L515.62 280.62 L515.83 280.81 L516.05 280.99 L516.27 281.16 L516.49 281.31 L516.71 281.46 L516.92 281.58 L517.14 281.7 L517.36 281.8 L517.58 281.89 L517.8 281.96 L518.02 282.02 L518.23 282.06 L518.45 282.09 L518.67 282.1 L518.89 282.1 L519.11 282.09 L519.33 282.06 L519.54 282.01 L519.76 281.95 L519.98 281.88 L520.2 281.79 L520.42 281.68 L520.63 281.57 L520.85 281.44 L521.07 281.29 L521.29 281.14 L521.51 280.97 L521.73 280.79 L521.94 280.59 L522.16 280.39 L522.38 280.18 L522.6 279.95 L522.82 279.72 L523.04 279.47 L523.25 279.22 L523.47 278.96 L523.69 278.7 L523.91 278.42 L524.13 278.14 L524.34 277.86 L524.56 277.57 L524.78 277.28 L525 276.98 L525.22 276.68 L525.44 276.38 L525.65 276.08 L525.87 275.78 L526.09 275.48 L526.31 275.18 L526.53 274.88 L526.75 274.58 L526.96 274.29 L527.18 274 L527.4 273.72 L527.62 273.44 L527.84 273.17 L528.05 272.91 L528.27 272.65 L528.49 272.4 L528.71 272.16 L528.93 271.93 L529.15 271.71 L529.36 271.49 L529.58 271.29 L529.8 271.11 L530.02 270.93 L530.24 270.76 L530.46 270.61 L530.67 270.47 L530.89 270.34 L531.11 270.23 L531.33 270.13 L531.55 270.05 L531.76 269.98 L531.98 269.92 L532.2 269.88 L532.42 269.86 L532.64 269.84 L532.86 269.85 L533.07 269.87 L533.29 269.9 L533.51 269.95 L533.73 270.01 L533.95 270.09 L534.17 270.18 L534.38 270.28 L534.6 270.4 L534.82 270.53 L535.04 270.68 L535.26 270.84 L535.47 271.01 L535.69 271.19 L535.91 271.39 L536.13 271.59 L536.35 271.81 L536.57 272.03 L536.78 272.27 L537 272.51 L537.22 272.77 L537.44 273.03 L537.66 273.3 L537.88 273.57 L538.09 273.85 L538.31 274.14 L538.53 274.43 L538.75 274.72 L538.97 275.02 L539.18 275.31 L539.4 275.61 L539.62 275.92 L539.84 276.22 L540.06 276.52 L540.28 276.82 L540.49 277.12 L540.71 277.41 L540.93 277.7 L541.15 277.99 L541.37 278.27 L541.59 278.55 L541.8 278.82 L542.02 279.08 L542.24 279.34 L542.46 279.59 L542.68 279.83 L542.89 280.06 L543.11 280.28 L543.33 280.49 L543.55 280.68 L543.77 280.87 L543.99 281.05 L544.2 281.21 L544.42 281.36 L544.64 281.5 L544.86 281.62 L545.08 281.73 L545.3 281.83 L545.51 281.91 L545.73 281.98 L545.95 282.03 L546.17 282.07 L546.39 282.1 L546.6 282.1 L546.82 282.1 L547.04 282.08 L547.26 282.04 L547.48 281.99 L547.7 281.93 L547.91 281.85 L548.13 281.76 L548.35 281.65 L548.57 281.53 L548.79 281.39 L549.01 281.25 L549.22 281.09 L549.44 280.91 L549.66 280.73 L549.88 280.53 L550.1 280.32 L550.31 280.11 L550.53 279.88 L550.75 279.64 L550.97 279.4 L551.19 279.14 L551.41 278.88 L551.62 278.61 L551.84 278.34 L552.06 278.05 L552.28 277.77 L552.5 277.48 L552.72 277.18 L552.93 276.89 L553.15 276.59 L553.37 276.29 L553.59 275.98 L553.81 275.68 L554.02 275.38 L554.24 275.08 L554.46 274.79 L554.68 274.49 L554.9 274.2 L555.12 273.91 L555.33 273.63 L555.55 273.36 L555.77 273.09 L555.99 272.82 L556.21 272.57 L556.43 272.32 L556.64 272.09 L556.86 271.86 L557.08 271.64 L557.3 271.43 L557.52 271.23 L557.73 271.05 L557.95 270.88 L558.17 270.71 L558.39 270.57 L558.61 270.43 L558.83 270.31 L559.04 270.2 L559.26 270.11 L559.48 270.03 L559.7 269.96 L559.92 269.91 L560.14 269.87 L560.35 269.85 L560.57 269.84 L560.79 269.85 L561.01 269.88 L561.23 269.91 L561.44 269.97 L561.66 270.03 L561.88 270.11 L562.1 270.21 L562.32 270.32 L562.54 270.44 L562.75 270.58 L562.97 270.73 L563.19 270.89 L563.41 271.06 L563.63 271.25 L563.85 271.45 L564.06 271.66 L564.28 271.88 L564.5 272.11 L564.72 272.34 L564.94 272.59 L565.15 272.85 L565.37 273.11 L565.59 273.38 L565.81 273.66 L566.03 273.94 L566.25 274.23 L566.46 274.52 L566.68 274.81 L566.9 275.11 L567.12 275.41 L567.34 275.71 L567.56 276.01 L567.77 276.31 L567.99 276.61 L568.21 276.91 L568.43 277.21 L568.65 277.5 L568.86 277.79 L569.08 278.08 L569.3 278.36 L569.52 278.63 L569.74 278.9 L569.96 279.16 L570.17 279.42 L570.39 279.66 L570.61 279.9 L570.83 280.13 L571.05 280.34 L571.27 280.55 L571.48 280.74 L571.7 280.93 L571.92 281.1 L572.14 281.26 L572.36 281.41 L572.57 281.54 L572.79 281.66 L573.01 281.76 L573.23 281.86 L573.45 281.93 L573.67 282 L573.88 282.05 L574.1 282.08 L574.32 282.1 L574.54 282.1 L574.76 282.09 L574.98 282.07 L575.19 282.03 L575.41 281.97 L575.63 281.9 L575.85 281.82 L576.07 281.72 L576.28 281.61 L576.5 281.49 L576.72 281.35 L576.94 281.2 L577.16 281.03 L577.38 280.86 L577.59 280.67 L577.81 280.47 L578.03 280.26 L578.25 280.04 L578.47 279.81 L578.69 279.57 L578.9 279.32 L579.12 279.06 L579.34 278.8 L579.56 278.53 L579.78 278.25 L579.99 277.97 L580.21 277.68 L580.43 277.39 L580.65 277.09 L580.87 276.79 L581.09 276.49 L581.3 276.19 L581.52 275.89 L581.74 275.59 L581.96 275.29 L582.18 274.99 L582.4 274.69 L582.61 274.4 L582.83 274.11 L583.05 273.83 L583.27 273.55 L583.49 273.27 L583.7 273 L583.92 272.74 L584.14 272.49 L584.36 272.25 L584.58 272.01 L584.8 271.79 L585.01 271.57 L585.23 271.37 L585.45 271.17 L585.67 270.99 L585.89 270.82 L586.11 270.67 L586.32 270.52 L586.54 270.39 L586.76 270.27 L586.98 270.17 L587.2 270.08 L587.42 270 L587.63 269.94 L587.85 269.9 L588.07 269.86 L588.29 269.85 L588.51 269.85 L588.72 269.86 L588.94 269.89 L589.16 269.93 L589.38 269.98 L589.6 270.06 L589.82 270.14 L590.03 270.24 L590.25 270.36 L590.47 270.48 L590.69 270.62 L590.91 270.78 L591.13 270.94 L591.34 271.12 L591.56 271.31 L591.78 271.51 L592 271.72 L592.22 271.95 L592.43 272.18 L592.65 272.42 L592.87 272.67 L593.09 272.93 L593.31 273.19 L593.53 273.47 L593.74 273.74 L593.96 274.03 L594.18 274.32 L594.4 274.61 L594.62 274.9 L594.84 275.2 L595.05 275.5 L595.27 275.8 L595.49 276.11 L595.71 276.41 L595.93 276.71 L596.14 277.01 L596.36 277.3 L596.58 277.59 L596.8 277.88 L597.02 278.17 L597.24 278.45 L597.45 278.72 L597.67 278.99 L597.89 279.24 L598.11 279.5 L598.33 279.74 L598.55 279.97 L598.76 280.19 L598.98 280.41 L599.2 280.61 L599.42 280.8 L599.64 280.98 L599.85 281.15 L600.07 281.31 L600.29 281.45 L600.51 281.58 L600.73 281.69 L600.95 281.79 L601.16 281.88 L601.38 281.96 L601.6 282.01 L601.82 282.06 L602.04 282.09 L602.26 282.1 L602.47 282.1 L602.69 282.09 L602.91 282.06 L603.13 282.01 L603.35 281.95 L603.56 281.88 L603.78 281.79 L604 281.69 L604.22 281.57 L604.44 281.44 L604.66 281.3 L604.87 281.15 L605.09 280.98 L605.31 280.8 L605.53 280.61 L605.75 280.4 L605.97 280.19 L606.18 279.97 L606.4 279.73 L606.62 279.49 L606.84 279.24 L607.06 278.98 L607.27 278.71 L607.49 278.44 L607.71 278.16 L607.93 277.88 L608.15 277.59 L608.37 277.29 L608.58 277 L608.8 276.7 L609.02 276.4 L609.24 276.1 L609.46 275.8 L609.68 275.49 L609.89 275.19 L610.11 274.9 L610.33 274.6 L610.55 274.31 L610.77 274.02 L610.98 273.74 L611.2 273.46 L611.42 273.19 L611.64 272.92 L611.86 272.66 L612.08 272.41 L612.29 272.17 L612.51 271.94 L612.73 271.72 L612.95 271.51 L613.17 271.31 L613.39 271.12 L613.6 270.94 L613.82 270.77 L614.04 270.62 L614.26 270.48 L614.48 270.35 L614.69 270.24 L614.91 270.14 L615.13 270.05 L615.35 269.98 L615.57 269.93 L615.79 269.88 L616 269.86 L616.22 269.85 L616.44 269.85 L616.66 269.86 L616.88 269.9 L617.1 269.94 L617.31 270.01 L617.53 270.08 L617.75 270.17 L617.97 270.28 L618.19 270.39 L618.4 270.53 L618.62 270.67 L618.84 270.83 L619.06 271 L619.28 271.18 L619.5 271.37 L619.71 271.58 L619.93 271.79 L620.15 272.02 L620.37 272.25 L620.59 272.5 L620.81 272.75 L621.02 273.01 L621.24 273.28 L621.46 273.55 L621.68 273.83 L621.9 274.12 L622.11 274.41 L622.33 274.7 L622.55 275 L622.77 275.3 L622.99 275.6 L623.21 275.9 L623.42 276.2 L623.64 276.5 L623.86 276.8 L624.08 277.1 L624.3 277.39 L624.52 277.68 L624.73 277.97 L624.95 278.25 L625.17 278.53 L625.39 278.8 L625.61 279.07 L625.82 279.32 L626.04 279.57 L626.26 279.81 L626.48 280.04 L626.7 280.26 L626.92 280.47 L627.13 280.67 L627.35 280.86 L627.57 281.04 L627.79 281.2 L628.01 281.35 L628.23 281.49 L628.44 281.61 L628.66 281.73 L628.88 281.82 L629.1 281.91 L629.32 281.98 L629.53 282.03 L629.75 282.07 L629.97 282.09 L630.19 282.1 L630.41 282.1 L630.63 282.08 L630.84 282.05 L631.06 282 L631.28 281.93 L631.5 281.85 L631.72 281.76 L631.94 281.66 L632.15 281.54 L632.37 281.4 L632.59 281.25 L632.81 281.1 L633.03 280.92 L633.24 280.74 L633.46 280.54 L633.68 280.34 L633.9 280.12 L634.12 279.89 L634.34 279.66 L634.55 279.41 L634.77 279.16 L634.99 278.9 L635.21 278.63 L635.43 278.35 L635.65 278.07 L635.86 277.79 L636.08 277.5 L636.3 277.2 L636.52 276.9 L636.74 276.61 L636.95 276.3 L637.17 276 L637.39 275.7 L637.61 275.4 L637.83 275.1 L638.05 274.8 L638.26 274.51 L638.48 274.22 L638.7 273.93 L638.92 273.65 L639.14 273.37 L639.36 273.1 L639.57 272.84 L639.79 272.59 L640.01 272.34 L640.23 272.1 L640.45 271.87 L640.66 271.65 L640.88 271.44 L641.1 271.25 L641.32 271.06 L641.54 270.89 L641.76 270.72 L641.97 270.57 L642.19 270.44 L642.41 270.32 L642.63 270.21 L642.85 270.11 L643.07 270.03 L643.28 269.96 L643.5 269.91 L643.72 269.87 L643.94 269.85 L644.16 269.84 L644.37 269.85 L644.59 269.87 L644.81 269.91 L645.03 269.96 L645.25 270.03 L645.47 270.11 L645.68 270.2 L645.9 270.31 L646.12 270.43 L646.34 270.57 L646.56 270.72 L646.78 270.88 L646.99 271.05 L647.21 271.24 L647.43 271.44 L647.65 271.64 L647.87 271.86 L648.08 272.09 L648.3 272.33 L648.52 272.58 L648.74 272.83 L648.96 273.09 L649.18 273.36 L649.39 273.64 L649.61 273.92 L649.83 274.21 L650.05 274.5 L650.27 274.79 L650.49 275.09 L650.7 275.39 L650.92 275.69 L651.14 275.99 L651.36 276.29 L651.58 276.59 L651.79 276.89 L652.01 277.19 L652.23 277.48 L652.45 277.78 L652.67 278.06 L652.89 278.34 L653.1 278.62 L653.32 278.89 L653.54 279.15 L653.76 279.4 L653.98 279.65 L654.2 279.88 L654.41 280.11 L654.63 280.33 L654.85 280.54 L655.07 280.73 L655.29 280.92 L655.5 281.09 L655.72 281.25 L655.94 281.4 L656.16 281.53 L656.38 281.65 L656.6 281.76 L656.81 281.85 L657.03 281.93 L657.25 281.99 L657.47 282.04 L657.69 282.08 L657.91 282.1 L658.12 282.1 L658.34 282.09 L658.56 282.07 L658.78 282.03 L659 281.98 L659.21 281.91 L659.43 281.83 L659.65 281.73 L659.87 281.62 L660.09 281.49 L660.31 281.36 L660.52 281.21 L660.74 281.04 L660.96 280.87 L661.18 280.68 L661.4 280.48 L661.62 280.27 L661.83 280.05 L662.05 279.82 L662.27 279.58 L662.49 279.33 L662.71 279.08 L662.92 278.81 L663.14 278.54 L663.36 278.27 L663.58 277.98 L663.8 277.7 L664.02 277.4 L664.23 277.11 L664.45 276.81 L664.67 276.51 L664.89 276.21 L665.11 275.91 L665.33 275.61 L665.54 275.31 L665.76 275.01 L665.98 274.71 L666.2 274.42 L666.42 274.13 L666.63 273.84 L666.85 273.56 L667.07 273.29 L667.29 273.02 L667.51 272.76 L667.73 272.51 L667.94 272.26 L668.16 272.03 L668.38 271.8 L668.6 271.59 L668.82 271.38 L669.04 271.19 L669.25 271 L669.47 270.83 L669.69 270.68 L669.91 270.53 L670.13 270.4 L670.34 270.28 L670.56 270.17 L670.78 270.08 L671 270.01 L671.22 269.95 L671.44 269.9 L671.65 269.87 L671.87 269.85 L672.09 269.84 L672.31 269.86 L672.53 269.88 L672.75 269.92 L672.96 269.98 L673.18 270.05 L673.4 270.14" class="cb"/>
<text transform="translate(48.4,213.55) scale(1.1,1)" class="tl" text-anchor="middle">0</text>
<text transform="translate(137,213.55) scale(1.1,1)" class="tl" text-anchor="middle">20</text>
<text transform="translate(225.6,213.55) scale(1.1,1)" class="tl" text-anchor="middle">40</text>
<text transform="translate(314.2,213.55) scale(1.1,1)" class="tl" text-anchor="middle">60</text>
<text transform="translate(42.5,195.9) scale(1.1,1)" class="tl" text-anchor="end">-5</text>
<text transform="translate(42.5,104.35) scale(1.1,1)" class="tl" text-anchor="end">0</text>
<text transform="translate(42.5,12.8) scale(1.1,1)" class="tl" text-anchor="end">5</text>
<text transform="translate(407.4,213.65) scale(1.1,1)" class="tl" text-anchor="middle">0</text>
<text transform="translate(496.1,213.65) scale(1.1,1)" class="tl" text-anchor="middle">20</text>
<text transform="translate(584.8,213.65) scale(1.1,1)" class="tl" text-anchor="middle">40</text>
<text transform="translate(673.5,213.65) scale(1.1,1)" class="tl" text-anchor="middle">60</text>
<text transform="translate(400.4,196) scale(1.1,1)" class="tl" text-anchor="end">-0.1</text>
<text transform="translate(400.4,134.93) scale(1.1,1)" class="tl" text-anchor="end">0</text>
<text transform="translate(400.4,73.87) scale(1.1,1)" class="tl" text-anchor="end">0.1</text>
<text transform="translate(400.4,12.8) scale(1.1,1)" class="tl" text-anchor="end">0.2</text>
<text transform="translate(48.4,476.65) scale(1.1,1)" class="tl" text-anchor="middle">0</text>
<text transform="translate(137,476.65) scale(1.1,1)" class="tl" text-anchor="middle">20</text>
<text transform="translate(225.6,476.65) scale(1.1,1)" class="tl" text-anchor="middle">40</text>
<text transform="translate(314.2,476.65) scale(1.1,1)" class="tl" text-anchor="middle">60</text>
<text transform="translate(42.5,459.8) scale(1.1,1)" class="tl" text-anchor="end">0</text>
<text transform="translate(42.5,416.25) scale(1.1,1)" class="tl" text-anchor="end">1</text>
<text transform="translate(42.5,372.71) scale(1.1,1)" class="tl" text-anchor="end">2</text>
<text transform="translate(42.5,329.16) scale(1.1,1)" class="tl" text-anchor="end">3</text>
<text transform="translate(42.5,285.62) scale(1.1,1)" class="tl" text-anchor="end">4</text>
<text transform="translate(407.4,476.55) scale(1.1,1)" class="tl" text-anchor="middle">0</text>
<text transform="translate(496.1,476.55) scale(1.1,1)" class="tl" text-anchor="middle">20</text>
<text transform="translate(584.8,476.55) scale(1.1,1)" class="tl" text-anchor="middle">40</text>
<text transform="translate(673.5,476.55) scale(1.1,1)" class="tl" text-anchor="middle">60</text>
<text transform="translate(400.4,459.7) scale(1.1,1)" class="tl" text-anchor="end">-0.2</text>
<text transform="translate(400.4,415.28) scale(1.1,1)" class="tl" text-anchor="end">-0.15</text>
<text transform="translate(400.4,370.86) scale(1.1,1)" class="tl" text-anchor="end">-0.1</text>
<text transform="translate(400.4,326.44) scale(1.1,1)" class="tl" text-anchor="end">-0.05</text>
<text transform="translate(400.4,282.02) scale(1.1,1)" class="tl" text-anchor="end">0</text>

<rect x="110" y="15" width="194" height="51" class="lg"/>
<line x1="113.8" y1="28.6" x2="154" y2="28.6" class="lb"/>
<line x1="114" y1="53" x2="154" y2="53" class="lr"/>
<text transform="translate(155.5,36.3) scale(1.1,1)" class="lt">Output signal</text>
<text transform="translate(155.5,59.8) scale(1.1,1)" class="lt">command signal</text>
<rect x="97.6" y="311.6" width="212.5" height="50.2" class="lg"/>
<line x1="101.5" y1="325.4" x2="141" y2="325.4" class="lb2"/>
<line x1="101.5" y1="349" x2="141" y2="349" class="lr"/>
<text transform="translate(144.9,333) scale(1.1,1)" class="lt">fault</text>
<text transform="translate(144.9,356.6) scale(1.088,1)" class="lt">observation output</text>


<text transform="translate(179.45,243) scale(1.0,1)" class="xl" text-anchor="middle">Time(s)</text>
<text transform="translate(537.5,243) scale(1.0,1)" class="xl" text-anchor="middle">Time(s)</text>
<text transform="translate(180.5,502.8) scale(1.0,1)" class="xl" text-anchor="middle">Time(s)</text>
<text transform="translate(540,502.8) scale(1.0,1)" class="xl" text-anchor="middle">Time(s)</text>
<circle cx="124" cy="225.1" r="0.9" fill="#333"/>
<circle cx="125.8" cy="485.4" r="0.9" fill="#333"/>
<text transform="translate(15.8,96.2) rotate(-90)" class="yl" style="font-size:18.5px" text-anchor="middle">Speed(°/s)</text>
<text transform="translate(358.8,96.6) rotate(-90) scale(1,1.1)" class="yl" style="font-size:18.7px" text-anchor="middle">Speed error(°/s)</text>
<text transform="translate(19.5,361.7) rotate(-90)" class="yl" style="font-size:19.4px" text-anchor="middle">fault prediction(°)</text>
<text transform="translate(348.6,358.2) rotate(-90) scale(1,1.06)" class="yl" style="font-size:19px" text-anchor="middle">observation error</text>

</svg>
</body></html>
